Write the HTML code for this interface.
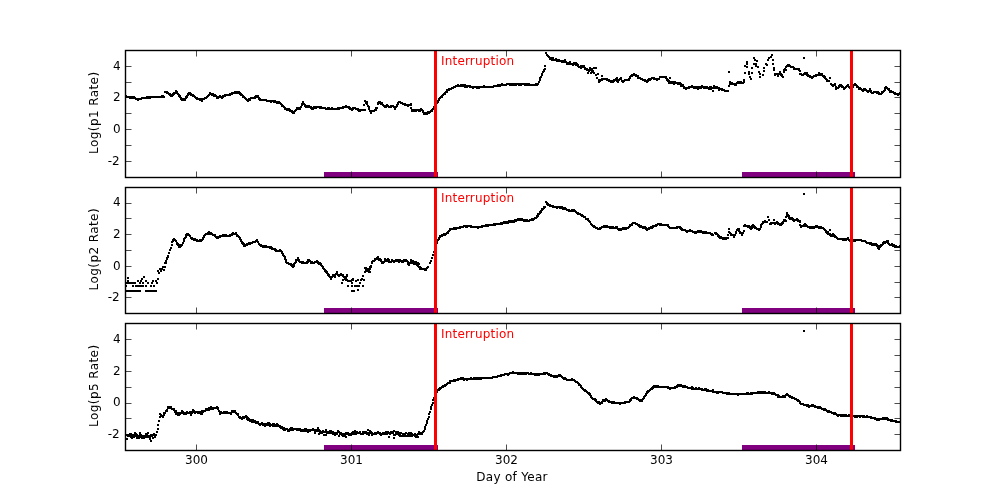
<!DOCTYPE html>
<html><head><meta charset="utf-8"><title>Day of Year</title>
<style>html,body{margin:0;padding:0;background:#fff;overflow:hidden}svg{display:block}</style></head><body>
<svg width="1000" height="500" viewBox="0 0 1000 500" font-family="DejaVu Sans, Bitstream Vera Sans, Liberation Sans, sans-serif" font-size="12px">
<rect width="1000" height="500" fill="#fff"/>
<defs>
<clipPath id="c0"><rect x="125.5" y="50.5" width="775.0" height="127.0"/></clipPath>
<clipPath id="c1"><rect x="125.5" y="187.5" width="775.0" height="126.0"/></clipPath>
<clipPath id="c2"><rect x="125.5" y="323.5" width="775.0" height="127.0"/></clipPath>
</defs>
<rect x="324" y="172.0" width="114" height="5.5" fill="#800080"/>
<rect x="742" y="172.0" width="113" height="5.5" fill="#800080"/>
<path clip-path="url(#c0)" fill="#000" shape-rendering="crispEdges" d="M125 95h2v2h-2zM126 96h2v2h-2zM127 96h2v2h-2zM128 96h2v2h-2zM129 96h2v2h-2zM129 97h2v2h-2zM130 96h2v2h-2zM130 97h2v2h-2zM131 96h2v2h-2zM131 97h2v2h-2zM132 97h2v2h-2zM133 96h2v2h-2zM133 97h2v2h-2zM134 97h2v2h-2zM135 98h2v2h-2zM136 98h2v2h-2zM137 98h2v2h-2zM137 99h2v2h-2zM138 98h2v2h-2zM139 98h2v2h-2zM140 98h2v2h-2zM141 97h2v2h-2zM142 97h2v2h-2zM143 97h2v2h-2zM144 97h2v2h-2zM145 97h2v2h-2zM146 96h2v2h-2zM146 97h2v2h-2zM147 97h2v2h-2zM148 96h2v2h-2zM149 97h2v2h-2zM150 96h2v2h-2zM151 96h2v2h-2zM152 96h2v2h-2zM153 96h2v2h-2zM154 96h2v2h-2zM155 96h2v2h-2zM156 96h2v2h-2zM157 96h2v2h-2zM158 96h2v2h-2zM159 96h2v2h-2zM160 96h2v2h-2zM161 95h2v2h-2zM161 96h2v2h-2zM162 95h2v2h-2zM163 96h2v2h-2zM164 91h2v2h-2zM165 91h2v2h-2zM166 91h2v2h-2zM166 92h2v2h-2zM167 92h2v2h-2zM168 93h2v2h-2zM169 93h2v2h-2zM169 94h2v2h-2zM170 94h2v2h-2zM170 95h2v2h-2zM171 95h2v2h-2zM172 93h2v2h-2zM172 94h2v2h-2zM173 92h2v2h-2zM173 93h2v2h-2zM174 92h2v2h-2zM175 90h2v2h-2zM175 91h2v2h-2zM175 92h2v2h-2zM176 91h2v2h-2zM176 92h2v2h-2zM177 93h2v2h-2zM178 94h2v2h-2zM178 95h2v2h-2zM179 95h2v2h-2zM179 96h2v2h-2zM180 97h2v2h-2zM180 98h2v2h-2zM181 98h2v2h-2zM181 99h2v2h-2zM182 98h2v2h-2zM182 99h2v2h-2zM183 98h2v2h-2zM184 98h2v2h-2zM184 99h2v2h-2zM185 96h2v2h-2zM185 97h2v2h-2zM186 95h2v2h-2zM186 96h2v2h-2zM187 93h2v2h-2zM187 94h2v2h-2zM188 92h2v2h-2zM189 92h2v2h-2zM189 93h2v2h-2zM190 93h2v2h-2zM190 94h2v2h-2zM191 94h2v2h-2zM192 94h2v2h-2zM192 95h2v2h-2zM193 95h2v2h-2zM194 96h2v2h-2zM195 97h2v2h-2zM196 97h2v2h-2zM196 98h2v2h-2zM197 98h2v2h-2zM198 98h2v2h-2zM199 98h2v2h-2zM199 99h2v2h-2zM200 99h2v2h-2zM201 98h2v2h-2zM201 100h2v2h-2zM202 98h2v2h-2zM203 98h2v2h-2zM204 97h2v2h-2zM205 97h2v2h-2zM206 96h2v2h-2zM207 95h2v2h-2zM208 94h2v2h-2zM209 92h2v2h-2zM209 93h2v2h-2zM210 93h2v2h-2zM211 93h2v2h-2zM211 94h2v2h-2zM212 93h2v2h-2zM212 94h2v2h-2zM213 94h2v2h-2zM213 95h2v2h-2zM214 94h2v2h-2zM215 95h2v2h-2zM216 96h2v2h-2zM216 97h2v2h-2zM217 96h2v2h-2zM217 97h2v2h-2zM218 96h2v2h-2zM219 95h2v2h-2zM220 96h2v2h-2zM221 96h2v2h-2zM221 97h2v2h-2zM222 95h2v2h-2zM222 96h2v2h-2zM223 95h2v2h-2zM224 94h2v2h-2zM224 95h2v2h-2zM225 94h2v2h-2zM226 94h2v2h-2zM227 94h2v2h-2zM228 94h2v2h-2zM229 93h2v2h-2zM229 94h2v2h-2zM230 93h2v2h-2zM231 92h2v2h-2zM231 93h2v2h-2zM232 92h2v2h-2zM233 92h2v2h-2zM234 91h2v2h-2zM235 92h2v2h-2zM236 91h2v2h-2zM236 92h2v2h-2zM237 91h2v2h-2zM238 91h2v2h-2zM238 92h2v2h-2zM239 92h2v2h-2zM239 93h2v2h-2zM240 93h2v2h-2zM240 94h2v2h-2zM241 94h2v2h-2zM242 95h2v2h-2zM242 96h2v2h-2zM243 96h2v2h-2zM244 97h2v2h-2zM245 98h2v2h-2zM246 99h2v2h-2zM247 99h2v2h-2zM247 100h2v2h-2zM248 98h2v2h-2zM248 99h2v2h-2zM249 98h2v2h-2zM249 99h2v2h-2zM250 97h2v2h-2zM251 97h2v2h-2zM252 97h2v2h-2zM253 97h2v2h-2zM254 96h2v2h-2zM254 97h2v2h-2zM255 95h2v2h-2zM255 96h2v2h-2zM256 95h2v2h-2zM257 95h2v2h-2zM257 96h2v2h-2zM258 97h2v2h-2zM258 98h2v2h-2zM259 98h2v2h-2zM259 99h2v2h-2zM260 99h2v2h-2zM261 99h2v2h-2zM262 99h2v2h-2zM263 99h2v2h-2zM264 99h2v2h-2zM265 99h2v2h-2zM266 100h2v2h-2zM267 100h2v2h-2zM268 100h2v2h-2zM269 100h2v2h-2zM270 100h2v2h-2zM270 101h2v2h-2zM271 100h2v2h-2zM272 100h2v2h-2zM273 100h2v2h-2zM273 101h2v2h-2zM274 100h2v2h-2zM274 101h2v2h-2zM275 101h2v2h-2zM276 101h2v2h-2zM276 102h2v2h-2zM277 101h2v2h-2zM278 101h2v2h-2zM278 102h2v2h-2zM279 102h2v2h-2zM280 103h2v2h-2zM281 104h2v2h-2zM281 105h2v2h-2zM282 105h2v2h-2zM283 106h2v2h-2zM284 107h2v2h-2zM284 108h2v2h-2zM285 108h2v2h-2zM286 108h2v2h-2zM286 109h2v2h-2zM287 109h2v2h-2zM288 108h2v2h-2zM288 109h2v2h-2zM289 109h2v2h-2zM289 110h2v2h-2zM290 110h2v2h-2zM291 110h2v2h-2zM291 111h2v2h-2zM292 112h2v2h-2zM293 111h2v2h-2zM293 112h2v2h-2zM294 110h2v2h-2zM295 109h2v2h-2zM296 107h2v2h-2zM296 108h2v2h-2zM297 107h2v2h-2zM297 108h2v2h-2zM298 107h2v2h-2zM299 107h2v2h-2zM299 108h2v2h-2zM300 106h2v2h-2zM301 103h2v2h-2zM301 104h2v2h-2zM302 101h2v2h-2zM302 102h2v2h-2zM303 103h2v2h-2zM304 104h2v2h-2zM304 105h2v2h-2zM305 105h2v2h-2zM305 106h2v2h-2zM306 105h2v2h-2zM306 106h2v2h-2zM307 105h2v2h-2zM307 106h2v2h-2zM308 105h2v2h-2zM308 106h2v2h-2zM309 106h2v2h-2zM310 106h2v2h-2zM310 107h2v2h-2zM311 107h2v2h-2zM311 108h2v2h-2zM312 107h2v2h-2zM312 108h2v2h-2zM313 106h2v2h-2zM313 107h2v2h-2zM314 107h2v2h-2zM315 106h2v2h-2zM315 107h2v2h-2zM316 106h2v2h-2zM317 106h2v2h-2zM318 106h2v2h-2zM319 107h2v2h-2zM320 106h2v2h-2zM320 107h2v2h-2zM321 107h2v2h-2zM322 107h2v2h-2zM323 107h2v2h-2zM324 107h2v2h-2zM325 108h2v2h-2zM326 108h2v2h-2zM327 107h2v2h-2zM327 108h2v2h-2zM328 107h2v2h-2zM329 108h2v2h-2zM330 108h2v2h-2zM331 107h2v2h-2zM331 108h2v2h-2zM332 108h2v2h-2zM333 108h2v2h-2zM334 108h2v2h-2zM335 108h2v2h-2zM336 108h2v2h-2zM337 107h2v2h-2zM337 108h2v2h-2zM338 108h2v2h-2zM339 107h2v2h-2zM340 107h2v2h-2zM341 107h2v2h-2zM342 106h2v2h-2zM342 107h2v2h-2zM343 106h2v2h-2zM344 106h2v2h-2zM345 105h2v2h-2zM345 106h2v2h-2zM346 106h2v2h-2zM347 106h2v2h-2zM348 106h2v2h-2zM348 107h2v2h-2zM349 107h2v2h-2zM349 108h2v2h-2zM350 108h2v2h-2zM351 108h2v2h-2zM351 109h2v2h-2zM352 107h2v2h-2zM352 108h2v2h-2zM353 107h2v2h-2zM354 107h2v2h-2zM355 108h2v2h-2zM356 108h2v2h-2zM357 108h2v2h-2zM357 109h2v2h-2zM358 109h2v2h-2zM358 110h2v2h-2zM359 109h2v2h-2zM359 110h2v2h-2zM360 109h2v2h-2zM361 109h2v2h-2zM362 109h2v2h-2zM363 104h2v2h-2zM363 109h2v2h-2zM364 100h2v2h-2zM364 109h2v2h-2zM365 102h2v2h-2zM366 101h2v2h-2zM366 102h2v2h-2zM366 103h2v2h-2zM367 105h2v2h-2zM368 106h2v2h-2zM368 108h2v2h-2zM369 110h2v2h-2zM370 111h2v2h-2zM370 112h2v2h-2zM371 110h2v2h-2zM372 110h2v2h-2zM373 110h2v2h-2zM374 109h2v2h-2zM375 107h2v2h-2zM375 108h2v2h-2zM375 109h2v2h-2zM376 107h2v2h-2zM377 102h2v2h-2zM377 103h2v2h-2zM378 101h2v2h-2zM379 101h2v2h-2zM379 102h2v2h-2zM380 103h2v2h-2zM381 102h2v2h-2zM381 103h2v2h-2zM382 104h2v2h-2zM383 105h2v2h-2zM384 106h2v2h-2zM385 105h2v2h-2zM385 106h2v2h-2zM386 104h2v2h-2zM386 105h2v2h-2zM387 105h2v2h-2zM388 106h2v2h-2zM389 106h2v2h-2zM390 105h2v2h-2zM390 106h2v2h-2zM391 105h2v2h-2zM392 105h2v2h-2zM393 106h2v2h-2zM394 106h2v2h-2zM394 107h2v2h-2zM394 108h2v2h-2zM395 106h2v2h-2zM396 104h2v2h-2zM396 105h2v2h-2zM397 102h2v2h-2zM397 103h2v2h-2zM398 101h2v2h-2zM399 101h2v2h-2zM400 102h2v2h-2zM401 102h2v2h-2zM402 103h2v2h-2zM403 103h2v2h-2zM404 103h2v2h-2zM404 104h2v2h-2zM405 104h2v2h-2zM406 104h2v2h-2zM407 104h2v2h-2zM407 105h2v2h-2zM408 104h2v2h-2zM409 104h2v2h-2zM410 103h2v2h-2zM410 104h2v2h-2zM410 107h2v2h-2zM411 109h2v2h-2zM411 110h2v2h-2zM412 109h2v2h-2zM413 109h2v2h-2zM413 110h2v2h-2zM414 109h2v2h-2zM415 109h2v2h-2zM415 110h2v2h-2zM416 109h2v2h-2zM417 109h2v2h-2zM418 109h2v2h-2zM418 110h2v2h-2zM419 109h2v2h-2zM419 110h2v2h-2zM420 108h2v2h-2zM421 109h2v2h-2zM422 110h2v2h-2zM422 111h2v2h-2zM423 112h2v2h-2zM423 113h2v2h-2zM424 113h2v2h-2zM425 112h2v2h-2zM425 113h2v2h-2zM426 112h2v2h-2zM426 113h2v2h-2zM427 111h2v2h-2zM427 112h2v2h-2zM428 111h2v2h-2zM428 112h2v2h-2zM429 111h2v2h-2zM430 110h2v2h-2zM431 109h2v2h-2zM431 110h2v2h-2zM432 108h2v2h-2zM433 106h2v2h-2zM433 107h2v2h-2zM434 105h2v2h-2zM434 106h2v2h-2zM435 103h2v2h-2zM435 105h2v2h-2zM436 102h2v2h-2zM437 100h2v2h-2zM437 101h2v2h-2zM438 98h2v2h-2zM438 99h2v2h-2zM439 97h2v2h-2zM440 96h2v2h-2zM441 95h2v2h-2zM441 96h2v2h-2zM442 94h2v2h-2zM443 93h2v2h-2zM444 92h2v2h-2zM444 93h2v2h-2zM445 91h2v2h-2zM446 89h2v2h-2zM446 91h2v2h-2zM447 89h2v2h-2zM448 88h2v2h-2zM448 89h2v2h-2zM449 88h2v2h-2zM450 88h2v2h-2zM451 87h2v2h-2zM452 87h2v2h-2zM453 86h2v2h-2zM454 86h2v2h-2zM455 85h2v2h-2zM456 85h2v2h-2zM457 84h2v2h-2zM457 85h2v2h-2zM458 85h2v2h-2zM459 85h2v2h-2zM460 84h2v2h-2zM461 84h2v2h-2zM461 85h2v2h-2zM462 84h2v2h-2zM463 84h2v2h-2zM463 85h2v2h-2zM464 84h2v2h-2zM464 86h2v2h-2zM465 85h2v2h-2zM465 86h2v2h-2zM466 86h2v2h-2zM467 85h2v2h-2zM468 85h2v2h-2zM469 85h2v2h-2zM469 86h2v2h-2zM470 86h2v2h-2zM471 86h2v2h-2zM472 86h2v2h-2zM472 87h2v2h-2zM473 86h2v2h-2zM474 86h2v2h-2zM475 86h2v2h-2zM476 86h2v2h-2zM476 87h2v2h-2zM477 86h2v2h-2zM478 86h2v2h-2zM478 87h2v2h-2zM479 86h2v2h-2zM480 86h2v2h-2zM481 86h2v2h-2zM482 86h2v2h-2zM483 85h2v2h-2zM483 86h2v2h-2zM484 86h2v2h-2zM485 86h2v2h-2zM486 86h2v2h-2zM487 86h2v2h-2zM488 86h2v2h-2zM489 86h2v2h-2zM490 86h2v2h-2zM491 86h2v2h-2zM492 86h2v2h-2zM493 85h2v2h-2zM494 85h2v2h-2zM495 85h2v2h-2zM496 85h2v2h-2zM497 84h2v2h-2zM497 85h2v2h-2zM498 85h2v2h-2zM499 84h2v2h-2zM499 85h2v2h-2zM500 84h2v2h-2zM501 83h2v2h-2zM501 84h2v2h-2zM502 84h2v2h-2zM503 84h2v2h-2zM504 84h2v2h-2zM505 84h2v2h-2zM506 83h2v2h-2zM507 83h2v2h-2zM508 83h2v2h-2zM509 83h2v2h-2zM509 84h2v2h-2zM510 83h2v2h-2zM511 83h2v2h-2zM511 84h2v2h-2zM512 83h2v2h-2zM513 84h2v2h-2zM514 83h2v2h-2zM514 84h2v2h-2zM515 84h2v2h-2zM516 83h2v2h-2zM517 83h2v2h-2zM518 83h2v2h-2zM518 84h2v2h-2zM519 83h2v2h-2zM520 83h2v2h-2zM520 84h2v2h-2zM521 83h2v2h-2zM522 83h2v2h-2zM523 83h2v2h-2zM524 83h2v2h-2zM524 84h2v2h-2zM525 83h2v2h-2zM525 84h2v2h-2zM526 83h2v2h-2zM526 84h2v2h-2zM527 83h2v2h-2zM527 84h2v2h-2zM528 83h2v2h-2zM529 84h2v2h-2zM530 84h2v2h-2zM531 84h2v2h-2zM532 84h2v2h-2zM533 84h2v2h-2zM534 84h2v2h-2zM535 83h2v2h-2zM535 84h2v2h-2zM536 84h2v2h-2zM537 83h2v2h-2zM538 81h2v2h-2zM539 77h2v2h-2zM539 79h2v2h-2zM540 76h2v2h-2zM541 73h2v2h-2zM541 74h2v2h-2zM542 71h2v2h-2zM543 69h2v2h-2zM543 70h2v2h-2zM544 65h2v2h-2zM544 68h2v2h-2zM545 52h2v2h-2zM546 54h2v2h-2zM547 55h2v2h-2zM548 56h2v2h-2zM549 57h2v2h-2zM549 58h2v2h-2zM550 57h2v2h-2zM550 58h2v2h-2zM551 59h2v2h-2zM552 57h2v2h-2zM552 58h2v2h-2zM553 59h2v2h-2zM554 59h2v2h-2zM555 58h2v2h-2zM555 59h2v2h-2zM556 60h2v2h-2zM557 59h2v2h-2zM558 59h2v2h-2zM558 60h2v2h-2zM559 60h2v2h-2zM560 60h2v2h-2zM561 60h2v2h-2zM561 61h2v2h-2zM562 60h2v2h-2zM562 61h2v2h-2zM563 60h2v2h-2zM564 59h2v2h-2zM564 61h2v2h-2zM565 61h2v2h-2zM566 62h2v2h-2zM566 63h2v2h-2zM567 62h2v2h-2zM567 63h2v2h-2zM568 63h2v2h-2zM569 61h2v2h-2zM569 62h2v2h-2zM570 63h2v2h-2zM571 63h2v2h-2zM572 64h2v2h-2zM573 62h2v2h-2zM573 63h2v2h-2zM574 62h2v2h-2zM575 62h2v2h-2zM575 64h2v2h-2zM576 63h2v2h-2zM577 64h2v2h-2zM577 65h2v2h-2zM578 66h2v2h-2zM579 66h2v2h-2zM580 65h2v2h-2zM580 67h2v2h-2zM581 66h2v2h-2zM582 65h2v2h-2zM583 65h2v2h-2zM583 66h2v2h-2zM584 67h2v2h-2zM584 68h2v2h-2zM585 68h2v2h-2zM586 68h2v2h-2zM586 69h2v2h-2zM587 69h2v2h-2zM587 72h2v2h-2zM588 69h2v2h-2zM588 70h2v2h-2zM589 67h2v2h-2zM589 68h2v2h-2zM590 69h2v2h-2zM590 72h2v2h-2zM591 68h2v2h-2zM591 71h2v2h-2zM592 70h2v2h-2zM593 67h2v2h-2zM593 72h2v2h-2zM595 67h2v2h-2zM595 74h2v2h-2zM596 77h2v2h-2zM597 73h2v2h-2zM598 79h2v2h-2zM598 81h2v2h-2zM599 79h2v2h-2zM599 80h2v2h-2zM600 79h2v2h-2zM601 75h2v2h-2zM601 78h2v2h-2zM601 79h2v2h-2zM602 78h2v2h-2zM603 78h2v2h-2zM604 78h2v2h-2zM605 78h2v2h-2zM606 78h2v2h-2zM606 79h2v2h-2zM607 79h2v2h-2zM608 79h2v2h-2zM608 80h2v2h-2zM609 80h2v2h-2zM610 80h2v2h-2zM610 81h2v2h-2zM611 80h2v2h-2zM611 81h2v2h-2zM612 81h2v2h-2zM613 79h2v2h-2zM613 80h2v2h-2zM614 79h2v2h-2zM615 78h2v2h-2zM616 77h2v2h-2zM616 78h2v2h-2zM616 80h2v2h-2zM617 80h2v2h-2zM617 81h2v2h-2zM618 79h2v2h-2zM619 78h2v2h-2zM620 77h2v2h-2zM620 78h2v2h-2zM621 80h2v2h-2zM622 80h2v2h-2zM622 81h2v2h-2zM623 80h2v2h-2zM624 79h2v2h-2zM625 79h2v2h-2zM626 79h2v2h-2zM627 79h2v2h-2zM628 78h2v2h-2zM628 79h2v2h-2zM629 76h2v2h-2zM629 77h2v2h-2zM630 75h2v2h-2zM631 74h2v2h-2zM631 75h2v2h-2zM632 74h2v2h-2zM633 73h2v2h-2zM634 74h2v2h-2zM635 74h2v2h-2zM635 75h2v2h-2zM636 75h2v2h-2zM637 75h2v2h-2zM637 77h2v2h-2zM638 77h2v2h-2zM639 77h2v2h-2zM640 78h2v2h-2zM641 78h2v2h-2zM642 79h2v2h-2zM643 79h2v2h-2zM644 79h2v2h-2zM644 80h2v2h-2zM645 80h2v2h-2zM646 80h2v2h-2zM646 81h2v2h-2zM647 79h2v2h-2zM647 80h2v2h-2zM648 78h2v2h-2zM648 79h2v2h-2zM649 78h2v2h-2zM649 79h2v2h-2zM650 78h2v2h-2zM651 77h2v2h-2zM652 77h2v2h-2zM653 77h2v2h-2zM653 78h2v2h-2zM654 78h2v2h-2zM655 78h2v2h-2zM656 79h2v2h-2zM657 78h2v2h-2zM658 78h2v2h-2zM659 76h2v2h-2zM661 76h2v2h-2zM662 76h2v2h-2zM663 76h2v2h-2zM664 76h2v2h-2zM665 76h2v2h-2zM665 77h2v2h-2zM666 78h2v2h-2zM666 79h2v2h-2zM667 79h2v2h-2zM667 80h2v2h-2zM668 80h2v2h-2zM668 82h2v2h-2zM669 77h2v2h-2zM669 81h2v2h-2zM670 82h2v2h-2zM671 81h2v2h-2zM671 82h2v2h-2zM672 81h2v2h-2zM672 82h2v2h-2zM673 82h2v2h-2zM673 83h2v2h-2zM674 81h2v2h-2zM674 82h2v2h-2zM675 82h2v2h-2zM676 82h2v2h-2zM677 82h2v2h-2zM677 83h2v2h-2zM678 82h2v2h-2zM679 82h2v2h-2zM679 83h2v2h-2zM680 83h2v2h-2zM680 85h2v2h-2zM681 84h2v2h-2zM682 84h2v2h-2zM682 85h2v2h-2zM683 86h2v2h-2zM683 87h2v2h-2zM684 87h2v2h-2zM685 88h2v2h-2zM686 87h2v2h-2zM687 87h2v2h-2zM688 86h2v2h-2zM688 87h2v2h-2zM689 86h2v2h-2zM690 86h2v2h-2zM691 85h2v2h-2zM691 86h2v2h-2zM692 86h2v2h-2zM693 86h2v2h-2zM693 87h2v2h-2zM694 86h2v2h-2zM695 87h2v2h-2zM696 86h2v2h-2zM696 87h2v2h-2zM697 86h2v2h-2zM697 88h2v2h-2zM698 86h2v2h-2zM699 86h2v2h-2zM699 87h2v2h-2zM700 87h2v2h-2zM701 85h2v2h-2zM701 86h2v2h-2zM702 86h2v2h-2zM703 86h2v2h-2zM703 87h2v2h-2zM704 87h2v2h-2zM705 86h2v2h-2zM705 87h2v2h-2zM706 86h2v2h-2zM706 87h2v2h-2zM707 87h2v2h-2zM708 87h2v2h-2zM708 88h2v2h-2zM709 86h2v2h-2zM710 86h2v2h-2zM710 88h2v2h-2zM711 87h2v2h-2zM712 87h2v2h-2zM712 90h2v2h-2zM713 85h2v2h-2zM713 87h2v2h-2zM714 86h2v2h-2zM715 87h2v2h-2zM716 86h2v2h-2zM717 87h2v2h-2zM718 87h2v2h-2zM718 89h2v2h-2zM719 88h2v2h-2zM720 88h2v2h-2zM721 88h2v2h-2zM721 89h2v2h-2zM722 89h2v2h-2zM723 89h2v2h-2zM724 90h2v2h-2zM725 90h2v2h-2zM726 90h2v2h-2zM727 90h2v2h-2zM728 71h2v2h-2zM728 85h2v2h-2zM729 81h2v2h-2zM729 82h2v2h-2zM729 83h2v2h-2zM730 82h2v2h-2zM731 82h2v2h-2zM731 83h2v2h-2zM732 83h2v2h-2zM733 83h2v2h-2zM734 84h2v2h-2zM735 83h2v2h-2zM735 84h2v2h-2zM736 82h2v2h-2zM737 81h2v2h-2zM737 82h2v2h-2zM738 81h2v2h-2zM739 81h2v2h-2zM739 82h2v2h-2zM740 81h2v2h-2zM740 82h2v2h-2zM741 82h2v2h-2zM742 82h2v2h-2zM743 79h2v2h-2zM743 81h2v2h-2zM744 65h2v2h-2zM744 72h2v2h-2zM746 61h2v2h-2zM746 63h2v2h-2zM746 66h2v2h-2zM748 71h2v2h-2zM748 73h2v2h-2zM749 76h2v2h-2zM750 78h2v2h-2zM751 67h2v2h-2zM751 72h2v2h-2zM753 57h2v2h-2zM753 63h2v2h-2zM754 59h2v2h-2zM755 63h2v2h-2zM755 65h2v2h-2zM756 60h2v2h-2zM757 66h2v2h-2zM758 71h2v2h-2zM759 73h2v2h-2zM759 76h2v2h-2zM762 74h2v2h-2zM763 67h2v2h-2zM763 70h2v2h-2zM765 63h2v2h-2zM766 64h2v2h-2zM767 59h2v2h-2zM768 57h2v2h-2zM770 56h2v2h-2zM771 54h2v2h-2zM772 59h2v2h-2zM772 63h2v2h-2zM773 67h2v2h-2zM773 69h2v2h-2zM774 73h2v2h-2zM774 74h2v2h-2zM775 73h2v2h-2zM776 73h2v2h-2zM777 73h2v2h-2zM777 75h2v2h-2zM778 73h2v2h-2zM779 71h2v2h-2zM779 72h2v2h-2zM780 73h2v2h-2zM780 74h2v2h-2zM781 74h2v2h-2zM781 75h2v2h-2zM782 76h2v2h-2zM783 69h2v2h-2zM783 71h2v2h-2zM784 68h2v2h-2zM784 69h2v2h-2zM785 66h2v2h-2zM785 69h2v2h-2zM786 65h2v2h-2zM787 64h2v2h-2zM788 64h2v2h-2zM788 65h2v2h-2zM789 65h2v2h-2zM790 66h2v2h-2zM791 66h2v2h-2zM792 66h2v2h-2zM793 67h2v2h-2zM793 68h2v2h-2zM794 68h2v2h-2zM795 68h2v2h-2zM796 68h2v2h-2zM797 68h2v2h-2zM798 68h2v2h-2zM798 69h2v2h-2zM799 70h2v2h-2zM799 73h2v2h-2zM800 73h2v2h-2zM801 74h2v2h-2zM802 74h2v2h-2zM803 57h2v2h-2zM803 73h2v2h-2zM804 72h2v2h-2zM805 72h2v2h-2zM805 73h2v2h-2zM806 72h2v2h-2zM806 74h2v2h-2zM807 74h2v2h-2zM807 75h2v2h-2zM808 75h2v2h-2zM809 75h2v2h-2zM809 76h2v2h-2zM810 76h2v2h-2zM811 76h2v2h-2zM811 77h2v2h-2zM812 76h2v2h-2zM813 75h2v2h-2zM814 75h2v2h-2zM815 74h2v2h-2zM815 75h2v2h-2zM816 74h2v2h-2zM817 74h2v2h-2zM818 72h2v2h-2zM818 73h2v2h-2zM819 73h2v2h-2zM819 74h2v2h-2zM820 74h2v2h-2zM821 73h2v2h-2zM822 75h2v2h-2zM823 75h2v2h-2zM823 76h2v2h-2zM824 76h2v2h-2zM824 77h2v2h-2zM825 78h2v2h-2zM826 79h2v2h-2zM826 80h2v2h-2zM827 80h2v2h-2zM828 80h2v2h-2zM829 77h2v2h-2zM830 83h2v2h-2zM831 84h2v2h-2zM832 84h2v2h-2zM832 85h2v2h-2zM833 84h2v2h-2zM834 83h2v2h-2zM834 84h2v2h-2zM835 86h2v2h-2zM835 87h2v2h-2zM835 88h2v2h-2zM836 87h2v2h-2zM837 87h2v2h-2zM838 85h2v2h-2zM838 86h2v2h-2zM839 84h2v2h-2zM839 85h2v2h-2zM840 84h2v2h-2zM841 85h2v2h-2zM841 86h2v2h-2zM842 86h2v2h-2zM843 87h2v2h-2zM843 88h2v2h-2zM844 87h2v2h-2zM845 86h2v2h-2zM846 85h2v2h-2zM847 84h2v2h-2zM847 85h2v2h-2zM848 86h2v2h-2zM849 87h2v2h-2zM850 86h2v2h-2zM851 86h2v2h-2zM852 84h2v2h-2zM852 86h2v2h-2zM853 84h2v2h-2zM854 83h2v2h-2zM855 84h2v2h-2zM856 85h2v2h-2zM856 86h2v2h-2zM857 86h2v2h-2zM858 87h2v2h-2zM858 88h2v2h-2zM859 87h2v2h-2zM859 88h2v2h-2zM860 88h2v2h-2zM861 89h2v2h-2zM862 90h2v2h-2zM863 88h2v2h-2zM863 89h2v2h-2zM864 88h2v2h-2zM865 89h2v2h-2zM866 90h2v2h-2zM867 90h2v2h-2zM867 91h2v2h-2zM868 90h2v2h-2zM869 88h2v2h-2zM869 89h2v2h-2zM870 90h2v2h-2zM870 91h2v2h-2zM871 92h2v2h-2zM872 92h2v2h-2zM873 91h2v2h-2zM874 91h2v2h-2zM875 91h2v2h-2zM876 91h2v2h-2zM876 92h2v2h-2zM877 91h2v2h-2zM878 92h2v2h-2zM878 93h2v2h-2zM879 93h2v2h-2zM880 93h2v2h-2zM881 91h2v2h-2zM881 92h2v2h-2zM882 91h2v2h-2zM883 90h2v2h-2zM884 87h2v2h-2zM884 89h2v2h-2zM885 86h2v2h-2zM886 87h2v2h-2zM887 88h2v2h-2zM888 88h2v2h-2zM888 89h2v2h-2zM889 90h2v2h-2zM889 91h2v2h-2zM890 90h2v2h-2zM890 91h2v2h-2zM891 91h2v2h-2zM892 91h2v2h-2zM893 92h2v2h-2zM894 92h2v2h-2zM894 93h2v2h-2zM895 93h2v2h-2zM896 93h2v2h-2zM897 93h2v2h-2zM897 94h2v2h-2zM898 93h2v2h-2zM899 92h2v2h-2z"/>
<rect x="434.0" y="50.5" width="3" height="127.0" fill="#ff0000"/>
<rect x="850.0" y="50.5" width="3" height="127.0" fill="#ff0000"/>
<text x="441" y="65.0" fill="#ff0000" letter-spacing="0.18">Interruption</text>
<path d="M125.5 161.5h6M900.5 161.5h-6M125.5 145.5h6M900.5 145.5h-6M125.5 129.5h6M900.5 129.5h-6M125.5 113.5h6M900.5 113.5h-6M125.5 97.5h6M900.5 97.5h-6M125.5 82.5h6M900.5 82.5h-6M125.5 66.5h6M900.5 66.5h-6M196.5 50.5v6M196.5 177.5v-6M351.5 50.5v6M351.5 177.5v-6M506.5 50.5v6M506.5 177.5v-6M661.5 50.5v6M661.5 177.5v-6M816.5 50.5v6M816.5 177.5v-6" stroke="#000" stroke-width="0.7" fill="none"/>
<rect x="125.5" y="50.5" width="775.0" height="127.0" fill="none" stroke="#000" stroke-width="1.4"/>
<text x="119.6" y="164.5" text-anchor="end">-2</text>
<text x="120.7" y="132.8" text-anchor="end">0</text>
<text x="120.7" y="101.2" text-anchor="end">2</text>
<text x="120.7" y="69.5" text-anchor="end">4</text>
<text transform="translate(97.5,112.7) rotate(-90)" text-anchor="middle" letter-spacing="0.42">Log(p1 Rate)</text>
<rect x="324" y="308.0" width="114" height="5.5" fill="#800080"/>
<rect x="742" y="308.0" width="113" height="5.5" fill="#800080"/>
<path clip-path="url(#c1)" fill="#000" shape-rendering="crispEdges" d="M125 282h2v2h-2zM125 285h2v2h-2zM125 290h2v2h-2zM126 282h2v2h-2zM126 290h2v2h-2zM127 277h2v2h-2zM127 280h2v2h-2zM127 282h2v2h-2zM127 290h2v2h-2zM128 282h2v2h-2zM129 282h2v2h-2zM129 290h2v2h-2zM130 282h2v2h-2zM130 290h2v2h-2zM131 282h2v2h-2zM131 290h2v2h-2zM132 282h2v2h-2zM132 285h2v2h-2zM132 290h2v2h-2zM133 282h2v2h-2zM133 290h2v2h-2zM134 282h2v2h-2zM134 290h2v2h-2zM135 285h2v2h-2zM135 290h2v2h-2zM136 285h2v2h-2zM136 290h2v2h-2zM137 280h2v2h-2zM137 285h2v2h-2zM137 290h2v2h-2zM138 285h2v2h-2zM138 290h2v2h-2zM139 282h2v2h-2zM139 285h2v2h-2zM139 290h2v2h-2zM140 280h2v2h-2zM140 285h2v2h-2zM141 278h2v2h-2zM142 282h2v2h-2zM142 285h2v2h-2zM143 276h2v2h-2zM145 280h2v2h-2zM145 285h2v2h-2zM145 290h2v2h-2zM146 290h2v2h-2zM147 282h2v2h-2zM147 290h2v2h-2zM148 290h2v2h-2zM149 290h2v2h-2zM150 285h2v2h-2zM150 290h2v2h-2zM151 282h2v2h-2zM151 290h2v2h-2zM152 280h2v2h-2zM152 290h2v2h-2zM153 285h2v2h-2zM153 290h2v2h-2zM154 290h2v2h-2zM155 280h2v2h-2zM155 290h2v2h-2zM156 282h2v2h-2zM157 270h2v2h-2zM157 278h2v2h-2zM158 272h2v2h-2zM159 268h2v2h-2zM160 270h2v2h-2zM161 268h2v2h-2zM162 266h2v2h-2zM163 269h2v2h-2zM164 262h2v2h-2zM164 266h2v2h-2zM165 260h2v2h-2zM165 262h2v2h-2zM166 257h2v2h-2zM166 258h2v2h-2zM167 255h2v2h-2zM167 256h2v2h-2zM168 252h2v2h-2zM169 249h2v2h-2zM170 247h2v2h-2zM171 241h2v2h-2zM171 244h2v2h-2zM172 239h2v2h-2zM172 240h2v2h-2zM173 238h2v2h-2zM174 239h2v2h-2zM175 240h2v2h-2zM176 242h2v2h-2zM176 243h2v2h-2zM177 243h2v2h-2zM177 244h2v2h-2zM178 244h2v2h-2zM178 246h2v2h-2zM179 245h2v2h-2zM179 246h2v2h-2zM180 244h2v2h-2zM180 245h2v2h-2zM181 244h2v2h-2zM182 242h2v2h-2zM183 238h2v2h-2zM183 239h2v2h-2zM183 240h2v2h-2zM184 237h2v2h-2zM185 234h2v2h-2zM185 236h2v2h-2zM186 233h2v2h-2zM187 233h2v2h-2zM187 234h2v2h-2zM188 234h2v2h-2zM189 235h2v2h-2zM190 237h2v2h-2zM191 237h2v2h-2zM191 238h2v2h-2zM192 238h2v2h-2zM193 238h2v2h-2zM193 239h2v2h-2zM194 238h2v2h-2zM194 239h2v2h-2zM195 239h2v2h-2zM196 239h2v2h-2zM196 240h2v2h-2zM197 240h2v2h-2zM198 240h2v2h-2zM199 239h2v2h-2zM199 240h2v2h-2zM200 239h2v2h-2zM200 240h2v2h-2zM201 239h2v2h-2zM202 237h2v2h-2zM202 238h2v2h-2zM203 235h2v2h-2zM203 236h2v2h-2zM204 234h2v2h-2zM205 233h2v2h-2zM206 233h2v2h-2zM207 232h2v2h-2zM207 233h2v2h-2zM208 231h2v2h-2zM208 232h2v2h-2zM209 232h2v2h-2zM209 233h2v2h-2zM210 232h2v2h-2zM210 233h2v2h-2zM211 233h2v2h-2zM212 234h2v2h-2zM213 234h2v2h-2zM214 234h2v2h-2zM214 235h2v2h-2zM215 236h2v2h-2zM216 237h2v2h-2zM217 236h2v2h-2zM217 237h2v2h-2zM218 236h2v2h-2zM219 235h2v2h-2zM219 236h2v2h-2zM220 235h2v2h-2zM221 235h2v2h-2zM222 234h2v2h-2zM222 235h2v2h-2zM223 234h2v2h-2zM224 234h2v2h-2zM224 235h2v2h-2zM225 234h2v2h-2zM226 235h2v2h-2zM227 235h2v2h-2zM228 235h2v2h-2zM229 234h2v2h-2zM229 235h2v2h-2zM230 234h2v2h-2zM231 233h2v2h-2zM231 234h2v2h-2zM232 232h2v2h-2zM232 233h2v2h-2zM233 233h2v2h-2zM234 233h2v2h-2zM235 232h2v2h-2zM235 233h2v2h-2zM236 234h2v2h-2zM236 235h2v2h-2zM237 235h2v2h-2zM238 236h2v2h-2zM239 237h2v2h-2zM239 238h2v2h-2zM240 239h2v2h-2zM240 240h2v2h-2zM241 241h2v2h-2zM241 242h2v2h-2zM242 242h2v2h-2zM242 243h2v2h-2zM243 243h2v2h-2zM243 244h2v2h-2zM243 245h2v2h-2zM244 245h2v2h-2zM245 244h2v2h-2zM246 243h2v2h-2zM246 244h2v2h-2zM247 243h2v2h-2zM248 242h2v2h-2zM248 243h2v2h-2zM249 242h2v2h-2zM249 243h2v2h-2zM250 242h2v2h-2zM251 242h2v2h-2zM252 241h2v2h-2zM253 241h2v2h-2zM254 241h2v2h-2zM255 240h2v2h-2zM256 239h2v2h-2zM256 240h2v2h-2zM257 241h2v2h-2zM258 243h2v2h-2zM259 244h2v2h-2zM260 244h2v2h-2zM260 245h2v2h-2zM261 245h2v2h-2zM262 245h2v2h-2zM262 246h2v2h-2zM263 245h2v2h-2zM263 246h2v2h-2zM264 246h2v2h-2zM265 245h2v2h-2zM266 246h2v2h-2zM267 246h2v2h-2zM268 246h2v2h-2zM269 246h2v2h-2zM269 247h2v2h-2zM270 246h2v2h-2zM270 247h2v2h-2zM271 247h2v2h-2zM271 248h2v2h-2zM272 248h2v2h-2zM273 248h2v2h-2zM274 248h2v2h-2zM274 249h2v2h-2zM275 249h2v2h-2zM275 250h2v2h-2zM276 250h2v2h-2zM277 250h2v2h-2zM278 250h2v2h-2zM279 249h2v2h-2zM279 250h2v2h-2zM280 250h2v2h-2zM281 251h2v2h-2zM281 252h2v2h-2zM282 253h2v2h-2zM282 254h2v2h-2zM283 255h2v2h-2zM284 256h2v2h-2zM284 258h2v2h-2zM285 259h2v2h-2zM285 261h2v2h-2zM286 262h2v2h-2zM287 262h2v2h-2zM288 263h2v2h-2zM289 263h2v2h-2zM290 263h2v2h-2zM290 264h2v2h-2zM291 264h2v2h-2zM291 265h2v2h-2zM292 266h2v2h-2zM293 263h2v2h-2zM293 265h2v2h-2zM294 262h2v2h-2zM295 259h2v2h-2zM295 261h2v2h-2zM296 259h2v2h-2zM297 257h2v2h-2zM297 258h2v2h-2zM298 259h2v2h-2zM298 260h2v2h-2zM299 261h2v2h-2zM300 261h2v2h-2zM301 261h2v2h-2zM301 262h2v2h-2zM302 261h2v2h-2zM302 262h2v2h-2zM303 262h2v2h-2zM304 262h2v2h-2zM305 262h2v2h-2zM306 261h2v2h-2zM306 262h2v2h-2zM307 259h2v2h-2zM307 261h2v2h-2zM308 259h2v2h-2zM309 260h2v2h-2zM310 261h2v2h-2zM310 262h2v2h-2zM311 261h2v2h-2zM312 262h2v2h-2zM313 262h2v2h-2zM314 261h2v2h-2zM315 261h2v2h-2zM316 260h2v2h-2zM316 261h2v2h-2zM317 261h2v2h-2zM317 262h2v2h-2zM318 263h2v2h-2zM319 262h2v2h-2zM319 263h2v2h-2zM320 263h2v2h-2zM320 264h2v2h-2zM321 265h2v2h-2zM322 266h2v2h-2zM322 267h2v2h-2zM323 268h2v2h-2zM324 269h2v2h-2zM324 270h2v2h-2zM325 270h2v2h-2zM325 271h2v2h-2zM326 271h2v2h-2zM326 272h2v2h-2zM327 273h2v2h-2zM327 274h2v2h-2zM328 274h2v2h-2zM328 275h2v2h-2zM329 276h2v2h-2zM330 276h2v2h-2zM330 278h2v2h-2zM331 276h2v2h-2zM332 274h2v2h-2zM333 275h2v2h-2zM334 274h2v2h-2zM334 276h2v2h-2zM335 273h2v2h-2zM336 271h2v2h-2zM336 272h2v2h-2zM336 273h2v2h-2zM337 274h2v2h-2zM338 275h2v2h-2zM339 274h2v2h-2zM340 273h2v2h-2zM340 274h2v2h-2zM341 274h2v2h-2zM341 282h2v2h-2zM342 274h2v2h-2zM342 275h2v2h-2zM342 279h2v2h-2zM343 276h2v2h-2zM344 277h2v2h-2zM344 278h2v2h-2zM345 276h2v2h-2zM345 278h2v2h-2zM345 279h2v2h-2zM346 274h2v2h-2zM346 275h2v2h-2zM346 279h2v2h-2zM347 280h2v2h-2zM347 285h2v2h-2zM348 280h2v2h-2zM349 280h2v2h-2zM350 280h2v2h-2zM351 279h2v2h-2zM351 282h2v2h-2zM351 285h2v2h-2zM351 290h2v2h-2zM352 278h2v2h-2zM352 279h2v2h-2zM353 290h2v2h-2zM354 285h2v2h-2zM355 280h2v2h-2zM356 285h2v2h-2zM357 279h2v2h-2zM357 289h2v2h-2zM358 285h2v2h-2zM359 282h2v2h-2zM360 279h2v2h-2zM361 278h2v2h-2zM362 275h2v2h-2zM362 285h2v2h-2zM363 279h2v2h-2zM364 267h2v2h-2zM364 271h2v2h-2zM365 267h2v2h-2zM365 268h2v2h-2zM365 270h2v2h-2zM366 269h2v2h-2zM366 270h2v2h-2zM367 268h2v2h-2zM367 269h2v2h-2zM367 270h2v2h-2zM368 269h2v2h-2zM368 271h2v2h-2zM369 266h2v2h-2zM369 267h2v2h-2zM369 268h2v2h-2zM369 271h2v2h-2zM370 265h2v2h-2zM370 266h2v2h-2zM371 261h2v2h-2zM371 262h2v2h-2zM372 260h2v2h-2zM373 260h2v2h-2zM374 258h2v2h-2zM374 259h2v2h-2zM375 258h2v2h-2zM376 257h2v2h-2zM376 258h2v2h-2zM377 256h2v2h-2zM377 257h2v2h-2zM378 258h2v2h-2zM378 259h2v2h-2zM379 258h2v2h-2zM379 259h2v2h-2zM380 259h2v2h-2zM380 260h2v2h-2zM381 261h2v2h-2zM381 262h2v2h-2zM382 261h2v2h-2zM382 262h2v2h-2zM383 261h2v2h-2zM384 258h2v2h-2zM384 259h2v2h-2zM385 259h2v2h-2zM385 260h2v2h-2zM386 260h2v2h-2zM387 258h2v2h-2zM387 259h2v2h-2zM388 259h2v2h-2zM388 261h2v2h-2zM389 261h2v2h-2zM390 261h2v2h-2zM391 259h2v2h-2zM391 260h2v2h-2zM392 260h2v2h-2zM393 260h2v2h-2zM393 261h2v2h-2zM394 260h2v2h-2zM395 259h2v2h-2zM395 260h2v2h-2zM396 259h2v2h-2zM396 260h2v2h-2zM397 259h2v2h-2zM398 259h2v2h-2zM398 261h2v2h-2zM399 259h2v2h-2zM399 260h2v2h-2zM400 260h2v2h-2zM401 260h2v2h-2zM401 261h2v2h-2zM402 260h2v2h-2zM402 261h2v2h-2zM403 259h2v2h-2zM403 260h2v2h-2zM404 260h2v2h-2zM405 259h2v2h-2zM405 260h2v2h-2zM406 260h2v2h-2zM407 261h2v2h-2zM407 263h2v2h-2zM408 263h2v2h-2zM408 264h2v2h-2zM409 262h2v2h-2zM410 259h2v2h-2zM410 260h2v2h-2zM411 261h2v2h-2zM411 262h2v2h-2zM412 260h2v2h-2zM412 261h2v2h-2zM413 262h2v2h-2zM413 263h2v2h-2zM414 261h2v2h-2zM414 262h2v2h-2zM415 261h2v2h-2zM415 263h2v2h-2zM416 264h2v2h-2zM417 262h2v2h-2zM417 265h2v2h-2zM418 263h2v2h-2zM418 266h2v2h-2zM419 266h2v2h-2zM419 268h2v2h-2zM420 267h2v2h-2zM421 268h2v2h-2zM422 268h2v2h-2zM423 268h2v2h-2zM424 269h2v2h-2zM425 268h2v2h-2zM425 269h2v2h-2zM426 267h2v2h-2zM427 266h2v2h-2zM429 262h2v2h-2zM430 260h2v2h-2zM431 257h2v2h-2zM432 254h2v2h-2zM433 251h2v2h-2zM434 248h2v2h-2zM435 244h2v2h-2zM436 241h2v2h-2zM436 242h2v2h-2zM437 239h2v2h-2zM438 237h2v2h-2zM438 238h2v2h-2zM439 235h2v2h-2zM439 236h2v2h-2zM440 235h2v2h-2zM441 234h2v2h-2zM441 235h2v2h-2zM442 234h2v2h-2zM443 233h2v2h-2zM443 234h2v2h-2zM444 233h2v2h-2zM444 234h2v2h-2zM445 233h2v2h-2zM446 232h2v2h-2zM447 231h2v2h-2zM447 232h2v2h-2zM448 230h2v2h-2zM449 228h2v2h-2zM449 229h2v2h-2zM450 228h2v2h-2zM451 228h2v2h-2zM452 228h2v2h-2zM453 227h2v2h-2zM453 228h2v2h-2zM454 227h2v2h-2zM455 228h2v2h-2zM456 227h2v2h-2zM457 227h2v2h-2zM458 227h2v2h-2zM459 226h2v2h-2zM459 227h2v2h-2zM460 226h2v2h-2zM461 226h2v2h-2zM462 226h2v2h-2zM463 225h2v2h-2zM464 225h2v2h-2zM465 225h2v2h-2zM465 226h2v2h-2zM466 225h2v2h-2zM466 226h2v2h-2zM467 225h2v2h-2zM468 225h2v2h-2zM469 225h2v2h-2zM470 225h2v2h-2zM470 226h2v2h-2zM471 226h2v2h-2zM472 226h2v2h-2zM473 226h2v2h-2zM474 226h2v2h-2zM475 226h2v2h-2zM476 226h2v2h-2zM477 226h2v2h-2zM477 227h2v2h-2zM478 226h2v2h-2zM479 226h2v2h-2zM480 226h2v2h-2zM481 225h2v2h-2zM481 226h2v2h-2zM482 225h2v2h-2zM483 225h2v2h-2zM484 225h2v2h-2zM485 224h2v2h-2zM485 225h2v2h-2zM486 225h2v2h-2zM487 224h2v2h-2zM487 225h2v2h-2zM488 224h2v2h-2zM489 224h2v2h-2zM490 224h2v2h-2zM491 224h2v2h-2zM492 224h2v2h-2zM493 223h2v2h-2zM493 224h2v2h-2zM494 223h2v2h-2zM494 224h2v2h-2zM495 223h2v2h-2zM496 223h2v2h-2zM497 223h2v2h-2zM498 223h2v2h-2zM499 223h2v2h-2zM500 222h2v2h-2zM500 223h2v2h-2zM501 222h2v2h-2zM501 223h2v2h-2zM502 222h2v2h-2zM503 221h2v2h-2zM503 222h2v2h-2zM504 222h2v2h-2zM505 221h2v2h-2zM505 222h2v2h-2zM506 221h2v2h-2zM507 221h2v2h-2zM507 222h2v2h-2zM508 220h2v2h-2zM508 221h2v2h-2zM509 221h2v2h-2zM510 220h2v2h-2zM510 221h2v2h-2zM511 220h2v2h-2zM511 221h2v2h-2zM512 220h2v2h-2zM513 220h2v2h-2zM513 221h2v2h-2zM514 219h2v2h-2zM514 220h2v2h-2zM515 219h2v2h-2zM515 220h2v2h-2zM516 219h2v2h-2zM517 218h2v2h-2zM517 219h2v2h-2zM518 218h2v2h-2zM518 219h2v2h-2zM519 218h2v2h-2zM519 219h2v2h-2zM520 219h2v2h-2zM521 218h2v2h-2zM521 219h2v2h-2zM522 219h2v2h-2zM523 219h2v2h-2zM523 220h2v2h-2zM524 219h2v2h-2zM525 219h2v2h-2zM525 220h2v2h-2zM526 219h2v2h-2zM526 220h2v2h-2zM527 220h2v2h-2zM528 220h2v2h-2zM529 219h2v2h-2zM530 219h2v2h-2zM531 218h2v2h-2zM532 218h2v2h-2zM532 219h2v2h-2zM533 218h2v2h-2zM534 217h2v2h-2zM535 217h2v2h-2zM536 215h2v2h-2zM536 216h2v2h-2zM537 213h2v2h-2zM537 215h2v2h-2zM538 213h2v2h-2zM539 211h2v2h-2zM539 212h2v2h-2zM540 210h2v2h-2zM540 211h2v2h-2zM541 208h2v2h-2zM541 209h2v2h-2zM542 208h2v2h-2zM543 206h2v2h-2zM543 207h2v2h-2zM544 206h2v2h-2zM545 201h2v2h-2zM546 202h2v2h-2zM546 203h2v2h-2zM547 203h2v2h-2zM547 204h2v2h-2zM548 204h2v2h-2zM549 204h2v2h-2zM549 205h2v2h-2zM550 205h2v2h-2zM551 205h2v2h-2zM552 205h2v2h-2zM552 206h2v2h-2zM553 206h2v2h-2zM554 206h2v2h-2zM555 206h2v2h-2zM556 207h2v2h-2zM557 206h2v2h-2zM558 206h2v2h-2zM559 206h2v2h-2zM559 207h2v2h-2zM560 206h2v2h-2zM560 207h2v2h-2zM561 206h2v2h-2zM561 207h2v2h-2zM562 207h2v2h-2zM562 208h2v2h-2zM563 207h2v2h-2zM564 207h2v2h-2zM564 208h2v2h-2zM565 208h2v2h-2zM566 209h2v2h-2zM567 209h2v2h-2zM568 209h2v2h-2zM568 210h2v2h-2zM569 210h2v2h-2zM570 210h2v2h-2zM571 209h2v2h-2zM571 210h2v2h-2zM572 210h2v2h-2zM573 209h2v2h-2zM573 210h2v2h-2zM574 210h2v2h-2zM575 211h2v2h-2zM576 212h2v2h-2zM577 212h2v2h-2zM577 213h2v2h-2zM578 213h2v2h-2zM579 213h2v2h-2zM580 214h2v2h-2zM581 214h2v2h-2zM581 215h2v2h-2zM582 215h2v2h-2zM583 216h2v2h-2zM584 216h2v2h-2zM585 218h2v2h-2zM586 218h2v2h-2zM587 218h2v2h-2zM587 219h2v2h-2zM588 220h2v2h-2zM589 221h2v2h-2zM590 223h2v2h-2zM591 224h2v2h-2zM592 225h2v2h-2zM593 225h2v2h-2zM593 226h2v2h-2zM594 226h2v2h-2zM595 227h2v2h-2zM596 227h2v2h-2zM597 228h2v2h-2zM598 228h2v2h-2zM599 227h2v2h-2zM599 228h2v2h-2zM600 227h2v2h-2zM601 226h2v2h-2zM602 226h2v2h-2zM603 225h2v2h-2zM603 226h2v2h-2zM604 225h2v2h-2zM604 226h2v2h-2zM605 226h2v2h-2zM606 225h2v2h-2zM606 226h2v2h-2zM607 226h2v2h-2zM608 226h2v2h-2zM609 226h2v2h-2zM609 227h2v2h-2zM610 226h2v2h-2zM610 227h2v2h-2zM611 226h2v2h-2zM611 227h2v2h-2zM612 226h2v2h-2zM612 227h2v2h-2zM613 227h2v2h-2zM614 227h2v2h-2zM615 226h2v2h-2zM616 226h2v2h-2zM616 227h2v2h-2zM617 228h2v2h-2zM618 228h2v2h-2zM618 229h2v2h-2zM619 228h2v2h-2zM620 229h2v2h-2zM621 228h2v2h-2zM622 227h2v2h-2zM622 228h2v2h-2zM623 228h2v2h-2zM624 227h2v2h-2zM624 228h2v2h-2zM625 228h2v2h-2zM626 227h2v2h-2zM627 227h2v2h-2zM628 226h2v2h-2zM629 224h2v2h-2zM629 225h2v2h-2zM630 224h2v2h-2zM631 223h2v2h-2zM631 224h2v2h-2zM632 222h2v2h-2zM633 222h2v2h-2zM634 222h2v2h-2zM635 223h2v2h-2zM636 223h2v2h-2zM637 224h2v2h-2zM638 224h2v2h-2zM638 225h2v2h-2zM639 225h2v2h-2zM639 226h2v2h-2zM640 225h2v2h-2zM640 226h2v2h-2zM641 226h2v2h-2zM642 226h2v2h-2zM642 227h2v2h-2zM643 226h2v2h-2zM644 226h2v2h-2zM644 227h2v2h-2zM645 227h2v2h-2zM645 228h2v2h-2zM646 228h2v2h-2zM646 229h2v2h-2zM647 228h2v2h-2zM648 227h2v2h-2zM648 228h2v2h-2zM649 227h2v2h-2zM650 226h2v2h-2zM650 227h2v2h-2zM651 227h2v2h-2zM652 225h2v2h-2zM652 226h2v2h-2zM653 225h2v2h-2zM654 225h2v2h-2zM655 224h2v2h-2zM655 225h2v2h-2zM656 224h2v2h-2zM657 223h2v2h-2zM658 223h2v2h-2zM659 223h2v2h-2zM659 224h2v2h-2zM660 223h2v2h-2zM661 224h2v2h-2zM662 224h2v2h-2zM663 224h2v2h-2zM664 224h2v2h-2zM665 224h2v2h-2zM666 224h2v2h-2zM667 224h2v2h-2zM667 225h2v2h-2zM668 226h2v2h-2zM669 227h2v2h-2zM670 227h2v2h-2zM671 227h2v2h-2zM672 227h2v2h-2zM673 227h2v2h-2zM674 227h2v2h-2zM675 227h2v2h-2zM676 226h2v2h-2zM676 227h2v2h-2zM677 226h2v2h-2zM678 226h2v2h-2zM679 226h2v2h-2zM679 227h2v2h-2zM680 227h2v2h-2zM680 228h2v2h-2zM681 228h2v2h-2zM681 229h2v2h-2zM682 229h2v2h-2zM683 229h2v2h-2zM684 229h2v2h-2zM685 230h2v2h-2zM686 230h2v2h-2zM686 231h2v2h-2zM687 230h2v2h-2zM688 230h2v2h-2zM689 229h2v2h-2zM689 230h2v2h-2zM690 230h2v2h-2zM691 230h2v2h-2zM692 231h2v2h-2zM693 231h2v2h-2zM694 231h2v2h-2zM694 232h2v2h-2zM695 231h2v2h-2zM695 232h2v2h-2zM696 231h2v2h-2zM697 230h2v2h-2zM697 231h2v2h-2zM698 231h2v2h-2zM699 230h2v2h-2zM699 231h2v2h-2zM700 230h2v2h-2zM701 231h2v2h-2zM702 231h2v2h-2zM702 232h2v2h-2zM703 231h2v2h-2zM703 232h2v2h-2zM704 232h2v2h-2zM705 231h2v2h-2zM705 232h2v2h-2zM706 232h2v2h-2zM707 232h2v2h-2zM708 232h2v2h-2zM709 232h2v2h-2zM710 233h2v2h-2zM711 233h2v2h-2zM711 234h2v2h-2zM712 234h2v2h-2zM714 232h2v2h-2zM715 232h2v2h-2zM715 233h2v2h-2zM716 233h2v2h-2zM717 234h2v2h-2zM717 235h2v2h-2zM718 235h2v2h-2zM718 236h2v2h-2zM719 236h2v2h-2zM719 237h2v2h-2zM720 236h2v2h-2zM720 237h2v2h-2zM721 237h2v2h-2zM722 237h2v2h-2zM722 238h2v2h-2zM723 237h2v2h-2zM723 238h2v2h-2zM724 237h2v2h-2zM724 238h2v2h-2zM725 238h2v2h-2zM726 237h2v2h-2zM727 234h2v2h-2zM727 237h2v2h-2zM728 228h2v2h-2zM728 231h2v2h-2zM729 232h2v2h-2zM730 233h2v2h-2zM730 234h2v2h-2zM731 234h2v2h-2zM732 234h2v2h-2zM733 235h2v2h-2zM733 236h2v2h-2zM734 234h2v2h-2zM735 231h2v2h-2zM735 232h2v2h-2zM736 229h2v2h-2zM737 228h2v2h-2zM738 228h2v2h-2zM738 229h2v2h-2zM738 230h2v2h-2zM739 231h2v2h-2zM739 232h2v2h-2zM740 232h2v2h-2zM741 233h2v2h-2zM741 234h2v2h-2zM742 232h2v2h-2zM743 225h2v2h-2zM743 230h2v2h-2zM744 224h2v2h-2zM744 225h2v2h-2zM745 225h2v2h-2zM746 225h2v2h-2zM747 226h2v2h-2zM748 225h2v2h-2zM748 226h2v2h-2zM749 226h2v2h-2zM749 227h2v2h-2zM750 227h2v2h-2zM750 228h2v2h-2zM751 225h2v2h-2zM751 227h2v2h-2zM752 224h2v2h-2zM752 225h2v2h-2zM753 225h2v2h-2zM753 226h2v2h-2zM754 226h2v2h-2zM754 227h2v2h-2zM755 227h2v2h-2zM756 228h2v2h-2zM757 228h2v2h-2zM758 228h2v2h-2zM758 229h2v2h-2zM759 228h2v2h-2zM760 224h2v2h-2zM760 226h2v2h-2zM761 223h2v2h-2zM762 221h2v2h-2zM762 222h2v2h-2zM763 221h2v2h-2zM764 220h2v2h-2zM764 221h2v2h-2zM765 221h2v2h-2zM766 221h2v2h-2zM767 216h2v2h-2zM768 219h2v2h-2zM769 223h2v2h-2zM770 222h2v2h-2zM770 223h2v2h-2zM771 222h2v2h-2zM772 222h2v2h-2zM773 219h2v2h-2zM773 222h2v2h-2zM774 222h2v2h-2zM774 223h2v2h-2zM775 222h2v2h-2zM776 221h2v2h-2zM776 222h2v2h-2zM777 222h2v2h-2zM777 223h2v2h-2zM778 223h2v2h-2zM779 224h2v2h-2zM780 223h2v2h-2zM780 224h2v2h-2zM781 222h2v2h-2zM781 223h2v2h-2zM782 221h2v2h-2zM782 222h2v2h-2zM783 219h2v2h-2zM784 219h2v2h-2zM784 220h2v2h-2zM785 216h2v2h-2zM785 220h2v2h-2zM786 212h2v2h-2zM786 213h2v2h-2zM786 215h2v2h-2zM787 214h2v2h-2zM788 215h2v2h-2zM788 216h2v2h-2zM788 217h2v2h-2zM789 217h2v2h-2zM789 218h2v2h-2zM790 217h2v2h-2zM790 218h2v2h-2zM791 217h2v2h-2zM791 218h2v2h-2zM792 218h2v2h-2zM792 219h2v2h-2zM793 220h2v2h-2zM794 219h2v2h-2zM795 219h2v2h-2zM796 218h2v2h-2zM796 219h2v2h-2zM797 219h2v2h-2zM797 220h2v2h-2zM798 220h2v2h-2zM799 220h2v2h-2zM799 221h2v2h-2zM799 224h2v2h-2zM800 226h2v2h-2zM801 225h2v2h-2zM802 225h2v2h-2zM803 193h2v2h-2zM803 224h2v2h-2zM803 225h2v2h-2zM804 223h2v2h-2zM804 225h2v2h-2zM805 224h2v2h-2zM805 225h2v2h-2zM806 225h2v2h-2zM807 226h2v2h-2zM808 226h2v2h-2zM809 226h2v2h-2zM809 227h2v2h-2zM810 227h2v2h-2zM811 226h2v2h-2zM811 227h2v2h-2zM812 226h2v2h-2zM813 226h2v2h-2zM813 227h2v2h-2zM814 226h2v2h-2zM815 225h2v2h-2zM815 226h2v2h-2zM816 225h2v2h-2zM816 226h2v2h-2zM817 226h2v2h-2zM818 226h2v2h-2zM818 227h2v2h-2zM819 227h2v2h-2zM820 226h2v2h-2zM820 227h2v2h-2zM821 227h2v2h-2zM822 227h2v2h-2zM823 228h2v2h-2zM824 229h2v2h-2zM825 230h2v2h-2zM825 231h2v2h-2zM826 231h2v2h-2zM826 232h2v2h-2zM827 231h2v2h-2zM827 233h2v2h-2zM828 233h2v2h-2zM829 229h2v2h-2zM829 233h2v2h-2zM829 234h2v2h-2zM830 234h2v2h-2zM830 235h2v2h-2zM831 234h2v2h-2zM832 233h2v2h-2zM832 235h2v2h-2zM833 234h2v2h-2zM834 235h2v2h-2zM834 236h2v2h-2zM835 236h2v2h-2zM836 237h2v2h-2zM837 238h2v2h-2zM838 238h2v2h-2zM839 238h2v2h-2zM840 238h2v2h-2zM841 238h2v2h-2zM842 238h2v2h-2zM842 239h2v2h-2zM843 239h2v2h-2zM844 238h2v2h-2zM844 239h2v2h-2zM845 238h2v2h-2zM845 239h2v2h-2zM846 238h2v2h-2zM847 237h2v2h-2zM847 238h2v2h-2zM848 239h2v2h-2zM849 239h2v2h-2zM849 240h2v2h-2zM850 239h2v2h-2zM851 239h2v2h-2zM851 240h2v2h-2zM852 240h2v2h-2zM853 239h2v2h-2zM853 240h2v2h-2zM854 239h2v2h-2zM854 240h2v2h-2zM855 239h2v2h-2zM856 239h2v2h-2zM857 239h2v2h-2zM858 239h2v2h-2zM859 239h2v2h-2zM860 239h2v2h-2zM861 240h2v2h-2zM862 240h2v2h-2zM863 240h2v2h-2zM864 240h2v2h-2zM865 241h2v2h-2zM866 242h2v2h-2zM867 242h2v2h-2zM868 242h2v2h-2zM869 242h2v2h-2zM869 243h2v2h-2zM870 242h2v2h-2zM870 243h2v2h-2zM871 244h2v2h-2zM872 243h2v2h-2zM872 244h2v2h-2zM873 243h2v2h-2zM873 244h2v2h-2zM874 244h2v2h-2zM875 243h2v2h-2zM875 244h2v2h-2zM876 244h2v2h-2zM876 245h2v2h-2zM877 245h2v2h-2zM877 247h2v2h-2zM878 247h2v2h-2zM878 248h2v2h-2zM879 245h2v2h-2zM879 246h2v2h-2zM880 244h2v2h-2zM880 245h2v2h-2zM881 244h2v2h-2zM882 242h2v2h-2zM882 243h2v2h-2zM883 241h2v2h-2zM883 242h2v2h-2zM884 241h2v2h-2zM884 242h2v2h-2zM885 241h2v2h-2zM886 240h2v2h-2zM887 240h2v2h-2zM887 241h2v2h-2zM887 242h2v2h-2zM888 243h2v2h-2zM889 244h2v2h-2zM890 244h2v2h-2zM891 243h2v2h-2zM891 244h2v2h-2zM892 244h2v2h-2zM892 245h2v2h-2zM893 244h2v2h-2zM893 245h2v2h-2zM894 246h2v2h-2zM895 245h2v2h-2zM895 246h2v2h-2zM896 246h2v2h-2zM897 246h2v2h-2zM898 246h2v2h-2zM899 245h2v2h-2z"/>
<rect x="434.0" y="187.5" width="3" height="126.0" fill="#ff0000"/>
<rect x="850.0" y="187.5" width="3" height="126.0" fill="#ff0000"/>
<text x="441" y="202.0" fill="#ff0000" letter-spacing="0.18">Interruption</text>
<path d="M125.5 297.5h6M900.5 297.5h-6M125.5 282.5h6M900.5 282.5h-6M125.5 266.5h6M900.5 266.5h-6M125.5 250.5h6M900.5 250.5h-6M125.5 234.5h6M900.5 234.5h-6M125.5 218.5h6M900.5 218.5h-6M125.5 203.5h6M900.5 203.5h-6M196.5 187.5v6M196.5 313.5v-6M351.5 187.5v6M351.5 313.5v-6M506.5 187.5v6M506.5 313.5v-6M661.5 187.5v6M661.5 313.5v-6M816.5 187.5v6M816.5 313.5v-6" stroke="#000" stroke-width="0.7" fill="none"/>
<rect x="125.5" y="187.5" width="775.0" height="126.0" fill="none" stroke="#000" stroke-width="1.4"/>
<text x="119.6" y="301.2" text-anchor="end">-2</text>
<text x="120.7" y="269.5" text-anchor="end">0</text>
<text x="120.7" y="237.9" text-anchor="end">2</text>
<text x="120.7" y="206.2" text-anchor="end">4</text>
<text transform="translate(97.5,249.2) rotate(-90)" text-anchor="middle" letter-spacing="0.42">Log(p2 Rate)</text>
<rect x="324" y="445.0" width="114" height="5.5" fill="#800080"/>
<rect x="742" y="445.0" width="113" height="5.5" fill="#800080"/>
<path clip-path="url(#c2)" fill="#000" shape-rendering="crispEdges" d="M125 434h2v2h-2zM126 434h2v2h-2zM126 438h2v2h-2zM127 435h2v2h-2zM128 434h2v2h-2zM128 435h2v2h-2zM129 433h2v2h-2zM129 434h2v2h-2zM130 433h2v2h-2zM130 436h2v2h-2zM131 434h2v2h-2zM131 437h2v2h-2zM132 436h2v2h-2zM133 434h2v2h-2zM133 436h2v2h-2zM134 432h2v2h-2zM134 433h2v2h-2zM135 433h2v2h-2zM135 435h2v2h-2zM136 434h2v2h-2zM136 437h2v2h-2zM137 436h2v2h-2zM137 437h2v2h-2zM138 435h2v2h-2zM138 437h2v2h-2zM139 432h2v2h-2zM139 434h2v2h-2zM140 434h2v2h-2zM140 436h2v2h-2zM141 436h2v2h-2zM141 437h2v2h-2zM142 435h2v2h-2zM142 436h2v2h-2zM143 436h2v2h-2zM143 437h2v2h-2zM144 435h2v2h-2zM144 436h2v2h-2zM145 433h2v2h-2zM145 434h2v2h-2zM146 434h2v2h-2zM146 436h2v2h-2zM147 432h2v2h-2zM147 435h2v2h-2zM148 435h2v2h-2zM148 436h2v2h-2zM149 436h2v2h-2zM149 438h2v2h-2zM150 434h2v2h-2zM150 435h2v2h-2zM150 440h2v2h-2zM151 434h2v2h-2zM151 435h2v2h-2zM152 434h2v2h-2zM152 437h2v2h-2zM153 433h2v2h-2zM153 434h2v2h-2zM154 435h2v2h-2zM154 436h2v2h-2zM155 434h2v2h-2zM156 431h2v2h-2zM157 424h2v2h-2zM157 428h2v2h-2zM158 420h2v2h-2zM159 413h2v2h-2zM159 416h2v2h-2zM160 414h2v2h-2zM161 415h2v2h-2zM162 415h2v2h-2zM162 416h2v2h-2zM163 412h2v2h-2zM163 414h2v2h-2zM164 412h2v2h-2zM165 410h2v2h-2zM166 409h2v2h-2zM166 410h2v2h-2zM167 406h2v2h-2zM167 407h2v2h-2zM168 406h2v2h-2zM168 407h2v2h-2zM169 406h2v2h-2zM169 407h2v2h-2zM170 406h2v2h-2zM171 408h2v2h-2zM172 408h2v2h-2zM173 408h2v2h-2zM173 409h2v2h-2zM174 411h2v2h-2zM175 410h2v2h-2zM175 411h2v2h-2zM175 413h2v2h-2zM176 412h2v2h-2zM176 413h2v2h-2zM177 412h2v2h-2zM177 414h2v2h-2zM178 413h2v2h-2zM178 414h2v2h-2zM179 412h2v2h-2zM179 413h2v2h-2zM180 412h2v2h-2zM181 410h2v2h-2zM181 412h2v2h-2zM182 411h2v2h-2zM182 412h2v2h-2zM183 412h2v2h-2zM183 413h2v2h-2zM184 412h2v2h-2zM185 412h2v2h-2zM185 413h2v2h-2zM186 411h2v2h-2zM186 412h2v2h-2zM187 412h2v2h-2zM188 412h2v2h-2zM189 411h2v2h-2zM190 413h2v2h-2zM190 414h2v2h-2zM191 411h2v2h-2zM191 412h2v2h-2zM192 409h2v2h-2zM192 410h2v2h-2zM193 410h2v2h-2zM193 411h2v2h-2zM194 411h2v2h-2zM194 412h2v2h-2zM195 411h2v2h-2zM196 411h2v2h-2zM197 411h2v2h-2zM197 412h2v2h-2zM198 411h2v2h-2zM199 411h2v2h-2zM199 412h2v2h-2zM200 411h2v2h-2zM200 413h2v2h-2zM201 410h2v2h-2zM201 413h2v2h-2zM202 410h2v2h-2zM202 411h2v2h-2zM203 410h2v2h-2zM204 410h2v2h-2zM205 408h2v2h-2zM205 409h2v2h-2zM206 409h2v2h-2zM207 408h2v2h-2zM207 409h2v2h-2zM208 407h2v2h-2zM208 409h2v2h-2zM209 408h2v2h-2zM210 406h2v2h-2zM210 408h2v2h-2zM211 407h2v2h-2zM212 407h2v2h-2zM212 408h2v2h-2zM213 407h2v2h-2zM214 407h2v2h-2zM215 407h2v2h-2zM216 406h2v2h-2zM216 407h2v2h-2zM217 407h2v2h-2zM217 408h2v2h-2zM218 410h2v2h-2zM219 412h2v2h-2zM219 413h2v2h-2zM220 411h2v2h-2zM221 412h2v2h-2zM222 412h2v2h-2zM223 411h2v2h-2zM224 411h2v2h-2zM224 412h2v2h-2zM225 411h2v2h-2zM225 412h2v2h-2zM226 411h2v2h-2zM227 412h2v2h-2zM228 412h2v2h-2zM229 412h2v2h-2zM230 412h2v2h-2zM230 413h2v2h-2zM231 410h2v2h-2zM231 411h2v2h-2zM232 410h2v2h-2zM232 411h2v2h-2zM233 411h2v2h-2zM234 410h2v2h-2zM234 411h2v2h-2zM235 412h2v2h-2zM236 413h2v2h-2zM237 413h2v2h-2zM237 414h2v2h-2zM238 416h2v2h-2zM239 416h2v2h-2zM239 417h2v2h-2zM240 417h2v2h-2zM241 417h2v2h-2zM241 418h2v2h-2zM242 416h2v2h-2zM242 417h2v2h-2zM243 416h2v2h-2zM243 417h2v2h-2zM244 416h2v2h-2zM245 415h2v2h-2zM246 416h2v2h-2zM246 418h2v2h-2zM247 417h2v2h-2zM247 419h2v2h-2zM248 418h2v2h-2zM248 419h2v2h-2zM249 419h2v2h-2zM249 420h2v2h-2zM250 419h2v2h-2zM251 420h2v2h-2zM251 421h2v2h-2zM252 419h2v2h-2zM252 421h2v2h-2zM253 421h2v2h-2zM254 420h2v2h-2zM255 421h2v2h-2zM255 422h2v2h-2zM256 421h2v2h-2zM257 421h2v2h-2zM257 422h2v2h-2zM258 423h2v2h-2zM259 423h2v2h-2zM259 424h2v2h-2zM260 423h2v2h-2zM261 422h2v2h-2zM261 423h2v2h-2zM262 424h2v2h-2zM263 423h2v2h-2zM264 424h2v2h-2zM264 425h2v2h-2zM265 423h2v2h-2zM265 424h2v2h-2zM266 423h2v2h-2zM266 424h2v2h-2zM267 422h2v2h-2zM267 423h2v2h-2zM268 422h2v2h-2zM268 424h2v2h-2zM269 423h2v2h-2zM269 425h2v2h-2zM270 424h2v2h-2zM271 424h2v2h-2zM272 423h2v2h-2zM272 425h2v2h-2zM273 423h2v2h-2zM274 424h2v2h-2zM274 425h2v2h-2zM275 424h2v2h-2zM275 425h2v2h-2zM276 423h2v2h-2zM276 425h2v2h-2zM277 424h2v2h-2zM277 425h2v2h-2zM278 425h2v2h-2zM279 425h2v2h-2zM279 426h2v2h-2zM280 426h2v2h-2zM280 427h2v2h-2zM281 426h2v2h-2zM281 427h2v2h-2zM282 427h2v2h-2zM282 428h2v2h-2zM283 427h2v2h-2zM283 429h2v2h-2zM284 428h2v2h-2zM284 429h2v2h-2zM285 428h2v2h-2zM286 428h2v2h-2zM287 429h2v2h-2zM287 430h2v2h-2zM288 429h2v2h-2zM288 430h2v2h-2zM289 428h2v2h-2zM289 429h2v2h-2zM290 427h2v2h-2zM290 429h2v2h-2zM291 427h2v2h-2zM291 429h2v2h-2zM292 428h2v2h-2zM292 429h2v2h-2zM293 428h2v2h-2zM294 428h2v2h-2zM295 428h2v2h-2zM296 428h2v2h-2zM296 429h2v2h-2zM297 428h2v2h-2zM297 429h2v2h-2zM298 428h2v2h-2zM298 429h2v2h-2zM299 428h2v2h-2zM299 429h2v2h-2zM300 430h2v2h-2zM301 429h2v2h-2zM302 429h2v2h-2zM302 430h2v2h-2zM303 430h2v2h-2zM304 428h2v2h-2zM304 430h2v2h-2zM305 428h2v2h-2zM306 429h2v2h-2zM306 430h2v2h-2zM307 429h2v2h-2zM307 431h2v2h-2zM308 429h2v2h-2zM308 430h2v2h-2zM309 429h2v2h-2zM309 430h2v2h-2zM310 429h2v2h-2zM311 429h2v2h-2zM312 428h2v2h-2zM312 429h2v2h-2zM313 429h2v2h-2zM314 429h2v2h-2zM314 430h2v2h-2zM314 432h2v2h-2zM315 429h2v2h-2zM316 430h2v2h-2zM317 427h2v2h-2zM317 429h2v2h-2zM318 429h2v2h-2zM318 430h2v2h-2zM318 433h2v2h-2zM319 430h2v2h-2zM319 431h2v2h-2zM320 432h2v2h-2zM321 431h2v2h-2zM321 432h2v2h-2zM322 430h2v2h-2zM323 431h2v2h-2zM323 434h2v2h-2zM324 431h2v2h-2zM325 429h2v2h-2zM325 434h2v2h-2zM326 431h2v2h-2zM326 432h2v2h-2zM327 431h2v2h-2zM327 432h2v2h-2zM328 432h2v2h-2zM329 430h2v2h-2zM329 432h2v2h-2zM330 430h2v2h-2zM330 432h2v2h-2zM331 431h2v2h-2zM331 432h2v2h-2zM332 431h2v2h-2zM332 433h2v2h-2zM333 432h2v2h-2zM334 434h2v2h-2zM335 432h2v2h-2zM335 433h2v2h-2zM336 432h2v2h-2zM336 433h2v2h-2zM337 430h2v2h-2zM337 431h2v2h-2zM338 431h2v2h-2zM338 435h2v2h-2zM339 433h2v2h-2zM340 432h2v2h-2zM341 433h2v2h-2zM341 434h2v2h-2zM342 434h2v2h-2zM342 435h2v2h-2zM343 433h2v2h-2zM343 435h2v2h-2zM344 433h2v2h-2zM344 434h2v2h-2zM345 432h2v2h-2zM345 433h2v2h-2zM345 436h2v2h-2zM346 433h2v2h-2zM347 432h2v2h-2zM347 433h2v2h-2zM348 433h2v2h-2zM348 434h2v2h-2zM349 434h2v2h-2zM350 433h2v2h-2zM350 434h2v2h-2zM351 432h2v2h-2zM352 431h2v2h-2zM352 433h2v2h-2zM353 431h2v2h-2zM353 432h2v2h-2zM354 430h2v2h-2zM354 433h2v2h-2zM355 432h2v2h-2zM355 433h2v2h-2zM356 431h2v2h-2zM357 432h2v2h-2zM358 432h2v2h-2zM359 431h2v2h-2zM359 432h2v2h-2zM360 433h2v2h-2zM361 433h2v2h-2zM362 431h2v2h-2zM362 433h2v2h-2zM363 431h2v2h-2zM363 432h2v2h-2zM364 431h2v2h-2zM364 432h2v2h-2zM365 431h2v2h-2zM365 432h2v2h-2zM366 433h2v2h-2zM367 429h2v2h-2zM367 432h2v2h-2zM368 432h2v2h-2zM368 434h2v2h-2zM369 430h2v2h-2zM369 432h2v2h-2zM370 431h2v2h-2zM371 432h2v2h-2zM371 434h2v2h-2zM372 433h2v2h-2zM373 433h2v2h-2zM374 432h2v2h-2zM374 433h2v2h-2zM375 432h2v2h-2zM375 433h2v2h-2zM376 432h2v2h-2zM377 431h2v2h-2zM377 432h2v2h-2zM378 432h2v2h-2zM379 432h2v2h-2zM379 433h2v2h-2zM380 433h2v2h-2zM380 434h2v2h-2zM381 433h2v2h-2zM382 432h2v2h-2zM383 432h2v2h-2zM383 433h2v2h-2zM384 433h2v2h-2zM385 431h2v2h-2zM385 432h2v2h-2zM386 432h2v2h-2zM386 433h2v2h-2zM387 431h2v2h-2zM388 432h2v2h-2zM388 436h2v2h-2zM389 433h2v2h-2zM390 431h2v2h-2zM391 431h2v2h-2zM391 432h2v2h-2zM392 431h2v2h-2zM392 432h2v2h-2zM393 430h2v2h-2zM393 434h2v2h-2zM393 437h2v2h-2zM394 434h2v2h-2zM395 431h2v2h-2zM395 432h2v2h-2zM396 433h2v2h-2zM397 431h2v2h-2zM397 433h2v2h-2zM398 432h2v2h-2zM398 434h2v2h-2zM399 434h2v2h-2zM399 435h2v2h-2zM400 432h2v2h-2zM401 435h2v2h-2zM402 433h2v2h-2zM402 434h2v2h-2zM403 434h2v2h-2zM403 435h2v2h-2zM404 433h2v2h-2zM404 434h2v2h-2zM405 432h2v2h-2zM405 435h2v2h-2zM406 435h2v2h-2zM407 433h2v2h-2zM407 435h2v2h-2zM408 432h2v2h-2zM408 433h2v2h-2zM409 433h2v2h-2zM409 435h2v2h-2zM410 432h2v2h-2zM410 435h2v2h-2zM411 433h2v2h-2zM411 435h2v2h-2zM412 434h2v2h-2zM413 434h2v2h-2zM414 433h2v2h-2zM414 435h2v2h-2zM415 434h2v2h-2zM415 436h2v2h-2zM416 434h2v2h-2zM417 433h2v2h-2zM417 436h2v2h-2zM418 431h2v2h-2zM418 433h2v2h-2zM419 432h2v2h-2zM419 433h2v2h-2zM420 432h2v2h-2zM420 433h2v2h-2zM421 432h2v2h-2zM421 433h2v2h-2zM422 431h2v2h-2zM423 430h2v2h-2zM424 426h2v2h-2zM424 428h2v2h-2zM425 424h2v2h-2zM426 420h2v2h-2zM426 422h2v2h-2zM427 418h2v2h-2zM428 413h2v2h-2zM428 416h2v2h-2zM429 411h2v2h-2zM430 406h2v2h-2zM430 408h2v2h-2zM431 404h2v2h-2zM432 399h2v2h-2zM432 402h2v2h-2zM433 397h2v2h-2zM434 394h2v2h-2zM434 395h2v2h-2zM435 392h2v2h-2zM436 390h2v2h-2zM436 391h2v2h-2zM437 389h2v2h-2zM438 388h2v2h-2zM438 389h2v2h-2zM439 387h2v2h-2zM439 388h2v2h-2zM440 387h2v2h-2zM441 386h2v2h-2zM442 385h2v2h-2zM442 386h2v2h-2zM443 385h2v2h-2zM444 384h2v2h-2zM444 385h2v2h-2zM445 384h2v2h-2zM446 383h2v2h-2zM447 382h2v2h-2zM448 382h2v2h-2zM449 380h2v2h-2zM449 382h2v2h-2zM450 380h2v2h-2zM451 380h2v2h-2zM452 380h2v2h-2zM453 379h2v2h-2zM453 380h2v2h-2zM454 379h2v2h-2zM454 380h2v2h-2zM455 379h2v2h-2zM456 379h2v2h-2zM457 378h2v2h-2zM457 379h2v2h-2zM458 378h2v2h-2zM459 378h2v2h-2zM460 377h2v2h-2zM460 378h2v2h-2zM461 378h2v2h-2zM462 377h2v2h-2zM462 378h2v2h-2zM463 379h2v2h-2zM464 378h2v2h-2zM465 378h2v2h-2zM466 378h2v2h-2zM466 379h2v2h-2zM467 378h2v2h-2zM468 378h2v2h-2zM469 378h2v2h-2zM470 377h2v2h-2zM470 378h2v2h-2zM471 378h2v2h-2zM472 378h2v2h-2zM473 377h2v2h-2zM473 378h2v2h-2zM474 377h2v2h-2zM475 377h2v2h-2zM475 378h2v2h-2zM476 377h2v2h-2zM477 377h2v2h-2zM477 378h2v2h-2zM478 378h2v2h-2zM479 377h2v2h-2zM479 378h2v2h-2zM480 377h2v2h-2zM480 378h2v2h-2zM481 377h2v2h-2zM482 377h2v2h-2zM483 377h2v2h-2zM484 377h2v2h-2zM485 377h2v2h-2zM486 377h2v2h-2zM487 377h2v2h-2zM488 377h2v2h-2zM489 377h2v2h-2zM490 377h2v2h-2zM491 377h2v2h-2zM492 376h2v2h-2zM493 376h2v2h-2zM494 376h2v2h-2zM495 376h2v2h-2zM496 376h2v2h-2zM497 375h2v2h-2zM498 375h2v2h-2zM499 375h2v2h-2zM500 374h2v2h-2zM500 375h2v2h-2zM501 374h2v2h-2zM502 374h2v2h-2zM503 374h2v2h-2zM504 373h2v2h-2zM505 373h2v2h-2zM506 373h2v2h-2zM507 373h2v2h-2zM507 374h2v2h-2zM508 373h2v2h-2zM509 372h2v2h-2zM510 372h2v2h-2zM511 372h2v2h-2zM512 371h2v2h-2zM513 372h2v2h-2zM514 372h2v2h-2zM515 372h2v2h-2zM516 372h2v2h-2zM517 373h2v2h-2zM518 372h2v2h-2zM518 373h2v2h-2zM519 372h2v2h-2zM520 372h2v2h-2zM520 373h2v2h-2zM521 372h2v2h-2zM521 373h2v2h-2zM522 372h2v2h-2zM523 372h2v2h-2zM523 373h2v2h-2zM524 372h2v2h-2zM524 373h2v2h-2zM525 373h2v2h-2zM526 372h2v2h-2zM527 372h2v2h-2zM528 373h2v2h-2zM529 373h2v2h-2zM530 372h2v2h-2zM530 373h2v2h-2zM531 373h2v2h-2zM532 373h2v2h-2zM533 373h2v2h-2zM534 374h2v2h-2zM535 373h2v2h-2zM536 374h2v2h-2zM537 373h2v2h-2zM537 374h2v2h-2zM538 373h2v2h-2zM538 374h2v2h-2zM539 373h2v2h-2zM540 373h2v2h-2zM541 373h2v2h-2zM542 373h2v2h-2zM543 372h2v2h-2zM543 373h2v2h-2zM544 372h2v2h-2zM544 373h2v2h-2zM545 372h2v2h-2zM546 372h2v2h-2zM547 373h2v2h-2zM548 373h2v2h-2zM548 374h2v2h-2zM549 374h2v2h-2zM550 374h2v2h-2zM550 375h2v2h-2zM551 375h2v2h-2zM552 375h2v2h-2zM553 375h2v2h-2zM553 376h2v2h-2zM554 376h2v2h-2zM555 375h2v2h-2zM556 376h2v2h-2zM557 375h2v2h-2zM558 374h2v2h-2zM558 375h2v2h-2zM559 374h2v2h-2zM560 375h2v2h-2zM561 376h2v2h-2zM562 377h2v2h-2zM563 377h2v2h-2zM563 378h2v2h-2zM564 377h2v2h-2zM564 378h2v2h-2zM565 378h2v2h-2zM566 379h2v2h-2zM567 379h2v2h-2zM568 379h2v2h-2zM569 379h2v2h-2zM570 379h2v2h-2zM571 378h2v2h-2zM571 379h2v2h-2zM572 379h2v2h-2zM573 379h2v2h-2zM574 380h2v2h-2zM575 381h2v2h-2zM576 381h2v2h-2zM577 382h2v2h-2zM578 383h2v2h-2zM578 384h2v2h-2zM579 384h2v2h-2zM580 385h2v2h-2zM580 386h2v2h-2zM581 387h2v2h-2zM582 388h2v2h-2zM583 389h2v2h-2zM584 389h2v2h-2zM584 390h2v2h-2zM585 390h2v2h-2zM586 391h2v2h-2zM587 392h2v2h-2zM588 392h2v2h-2zM588 393h2v2h-2zM589 393h2v2h-2zM589 394h2v2h-2zM590 395h2v2h-2zM590 396h2v2h-2zM591 397h2v2h-2zM592 398h2v2h-2zM593 398h2v2h-2zM594 398h2v2h-2zM594 399h2v2h-2zM595 399h2v2h-2zM595 400h2v2h-2zM596 401h2v2h-2zM597 402h2v2h-2zM598 401h2v2h-2zM598 402h2v2h-2zM599 402h2v2h-2zM599 403h2v2h-2zM600 402h2v2h-2zM601 401h2v2h-2zM601 402h2v2h-2zM602 399h2v2h-2zM603 400h2v2h-2zM604 399h2v2h-2zM604 400h2v2h-2zM605 398h2v2h-2zM605 399h2v2h-2zM606 399h2v2h-2zM607 400h2v2h-2zM608 400h2v2h-2zM608 401h2v2h-2zM609 401h2v2h-2zM610 401h2v2h-2zM611 401h2v2h-2zM611 402h2v2h-2zM612 401h2v2h-2zM612 402h2v2h-2zM613 401h2v2h-2zM614 402h2v2h-2zM615 402h2v2h-2zM616 402h2v2h-2zM617 402h2v2h-2zM618 402h2v2h-2zM619 402h2v2h-2zM619 403h2v2h-2zM620 402h2v2h-2zM621 402h2v2h-2zM622 402h2v2h-2zM623 402h2v2h-2zM624 401h2v2h-2zM624 402h2v2h-2zM625 401h2v2h-2zM626 401h2v2h-2zM627 401h2v2h-2zM628 401h2v2h-2zM629 399h2v2h-2zM629 400h2v2h-2zM630 398h2v2h-2zM630 399h2v2h-2zM631 397h2v2h-2zM632 397h2v2h-2zM633 396h2v2h-2zM634 397h2v2h-2zM635 397h2v2h-2zM636 397h2v2h-2zM636 398h2v2h-2zM637 398h2v2h-2zM638 399h2v2h-2zM639 399h2v2h-2zM639 400h2v2h-2zM640 399h2v2h-2zM641 399h2v2h-2zM641 400h2v2h-2zM642 398h2v2h-2zM643 396h2v2h-2zM643 397h2v2h-2zM644 395h2v2h-2zM645 393h2v2h-2zM645 394h2v2h-2zM646 391h2v2h-2zM646 392h2v2h-2zM647 390h2v2h-2zM647 391h2v2h-2zM648 390h2v2h-2zM649 389h2v2h-2zM650 388h2v2h-2zM651 387h2v2h-2zM651 388h2v2h-2zM652 386h2v2h-2zM652 387h2v2h-2zM653 385h2v2h-2zM654 385h2v2h-2zM654 386h2v2h-2zM655 385h2v2h-2zM656 386h2v2h-2zM657 385h2v2h-2zM657 386h2v2h-2zM658 386h2v2h-2zM659 386h2v2h-2zM660 386h2v2h-2zM661 386h2v2h-2zM662 386h2v2h-2zM663 386h2v2h-2zM664 386h2v2h-2zM665 386h2v2h-2zM666 386h2v2h-2zM667 386h2v2h-2zM667 387h2v2h-2zM668 387h2v2h-2zM669 387h2v2h-2zM669 388h2v2h-2zM670 387h2v2h-2zM671 387h2v2h-2zM672 387h2v2h-2zM673 387h2v2h-2zM674 386h2v2h-2zM674 387h2v2h-2zM675 386h2v2h-2zM676 385h2v2h-2zM676 386h2v2h-2zM677 384h2v2h-2zM677 385h2v2h-2zM678 384h2v2h-2zM678 385h2v2h-2zM679 384h2v2h-2zM680 384h2v2h-2zM680 385h2v2h-2zM681 385h2v2h-2zM682 385h2v2h-2zM682 386h2v2h-2zM683 386h2v2h-2zM684 385h2v2h-2zM685 386h2v2h-2zM686 386h2v2h-2zM687 387h2v2h-2zM688 387h2v2h-2zM689 387h2v2h-2zM690 387h2v2h-2zM691 386h2v2h-2zM691 388h2v2h-2zM692 387h2v2h-2zM693 388h2v2h-2zM694 388h2v2h-2zM695 387h2v2h-2zM695 388h2v2h-2zM696 388h2v2h-2zM697 388h2v2h-2zM698 387h2v2h-2zM698 388h2v2h-2zM699 388h2v2h-2zM700 388h2v2h-2zM701 388h2v2h-2zM701 389h2v2h-2zM702 389h2v2h-2zM703 389h2v2h-2zM704 388h2v2h-2zM704 389h2v2h-2zM705 388h2v2h-2zM705 389h2v2h-2zM706 389h2v2h-2zM706 390h2v2h-2zM707 389h2v2h-2zM708 390h2v2h-2zM709 390h2v2h-2zM710 390h2v2h-2zM711 390h2v2h-2zM712 389h2v2h-2zM712 391h2v2h-2zM713 391h2v2h-2zM714 391h2v2h-2zM715 391h2v2h-2zM716 392h2v2h-2zM717 391h2v2h-2zM717 392h2v2h-2zM718 391h2v2h-2zM719 391h2v2h-2zM720 391h2v2h-2zM721 391h2v2h-2zM722 392h2v2h-2zM723 392h2v2h-2zM724 392h2v2h-2zM725 392h2v2h-2zM726 393h2v2h-2zM727 392h2v2h-2zM727 393h2v2h-2zM728 392h2v2h-2zM728 393h2v2h-2zM729 393h2v2h-2zM730 393h2v2h-2zM731 393h2v2h-2zM732 393h2v2h-2zM733 393h2v2h-2zM734 393h2v2h-2zM735 393h2v2h-2zM736 393h2v2h-2zM737 394h2v2h-2zM738 393h2v2h-2zM739 393h2v2h-2zM740 393h2v2h-2zM741 393h2v2h-2zM742 393h2v2h-2zM743 393h2v2h-2zM744 393h2v2h-2zM745 393h2v2h-2zM746 392h2v2h-2zM746 393h2v2h-2zM747 392h2v2h-2zM748 393h2v2h-2zM749 393h2v2h-2zM750 392h2v2h-2zM750 393h2v2h-2zM751 392h2v2h-2zM751 393h2v2h-2zM752 392h2v2h-2zM753 392h2v2h-2zM754 392h2v2h-2zM755 392h2v2h-2zM756 392h2v2h-2zM757 391h2v2h-2zM758 391h2v2h-2zM758 392h2v2h-2zM759 391h2v2h-2zM759 392h2v2h-2zM760 391h2v2h-2zM761 391h2v2h-2zM761 392h2v2h-2zM762 391h2v2h-2zM763 392h2v2h-2zM764 391h2v2h-2zM765 392h2v2h-2zM766 392h2v2h-2zM767 392h2v2h-2zM768 391h2v2h-2zM768 392h2v2h-2zM769 392h2v2h-2zM770 392h2v2h-2zM771 392h2v2h-2zM771 393h2v2h-2zM772 392h2v2h-2zM773 392h2v2h-2zM773 393h2v2h-2zM774 393h2v2h-2zM775 394h2v2h-2zM776 394h2v2h-2zM777 394h2v2h-2zM777 396h2v2h-2zM778 395h2v2h-2zM778 396h2v2h-2zM779 396h2v2h-2zM780 396h2v2h-2zM781 396h2v2h-2zM782 395h2v2h-2zM783 396h2v2h-2zM784 395h2v2h-2zM784 396h2v2h-2zM785 394h2v2h-2zM786 393h2v2h-2zM787 394h2v2h-2zM788 395h2v2h-2zM789 395h2v2h-2zM789 396h2v2h-2zM790 396h2v2h-2zM791 396h2v2h-2zM791 397h2v2h-2zM792 397h2v2h-2zM793 397h2v2h-2zM794 398h2v2h-2zM795 398h2v2h-2zM796 399h2v2h-2zM797 399h2v2h-2zM797 400h2v2h-2zM798 400h2v2h-2zM799 401h2v2h-2zM799 402h2v2h-2zM800 403h2v2h-2zM801 403h2v2h-2zM802 403h2v2h-2zM803 330h2v2h-2zM803 404h2v2h-2zM804 404h2v2h-2zM805 404h2v2h-2zM806 404h2v2h-2zM806 405h2v2h-2zM807 404h2v2h-2zM808 405h2v2h-2zM808 406h2v2h-2zM809 405h2v2h-2zM810 405h2v2h-2zM811 404h2v2h-2zM811 405h2v2h-2zM812 404h2v2h-2zM812 405h2v2h-2zM813 405h2v2h-2zM814 405h2v2h-2zM814 406h2v2h-2zM815 406h2v2h-2zM816 406h2v2h-2zM817 406h2v2h-2zM817 407h2v2h-2zM818 407h2v2h-2zM819 406h2v2h-2zM819 407h2v2h-2zM820 407h2v2h-2zM821 408h2v2h-2zM822 408h2v2h-2zM823 408h2v2h-2zM823 409h2v2h-2zM824 408h2v2h-2zM825 409h2v2h-2zM826 410h2v2h-2zM827 410h2v2h-2zM827 411h2v2h-2zM828 410h2v2h-2zM828 411h2v2h-2zM829 411h2v2h-2zM830 411h2v2h-2zM831 412h2v2h-2zM832 412h2v2h-2zM833 413h2v2h-2zM834 412h2v2h-2zM835 413h2v2h-2zM836 414h2v2h-2zM837 414h2v2h-2zM837 415h2v2h-2zM838 414h2v2h-2zM839 414h2v2h-2zM840 415h2v2h-2zM841 414h2v2h-2zM842 415h2v2h-2zM843 414h2v2h-2zM843 415h2v2h-2zM844 414h2v2h-2zM845 414h2v2h-2zM845 415h2v2h-2zM846 415h2v2h-2zM847 415h2v2h-2zM848 414h2v2h-2zM848 415h2v2h-2zM849 415h2v2h-2zM850 415h2v2h-2zM850 416h2v2h-2zM851 415h2v2h-2zM852 415h2v2h-2zM853 415h2v2h-2zM854 415h2v2h-2zM854 416h2v2h-2zM855 415h2v2h-2zM855 416h2v2h-2zM856 415h2v2h-2zM856 416h2v2h-2zM857 415h2v2h-2zM858 415h2v2h-2zM859 416h2v2h-2zM860 415h2v2h-2zM861 415h2v2h-2zM862 415h2v2h-2zM862 416h2v2h-2zM863 415h2v2h-2zM863 416h2v2h-2zM864 416h2v2h-2zM865 416h2v2h-2zM866 415h2v2h-2zM866 416h2v2h-2zM867 416h2v2h-2zM868 416h2v2h-2zM869 416h2v2h-2zM870 416h2v2h-2zM870 417h2v2h-2zM871 417h2v2h-2zM872 417h2v2h-2zM873 417h2v2h-2zM874 417h2v2h-2zM874 418h2v2h-2zM875 418h2v2h-2zM876 418h2v2h-2zM876 419h2v2h-2zM877 418h2v2h-2zM878 418h2v2h-2zM878 419h2v2h-2zM879 418h2v2h-2zM880 418h2v2h-2zM881 418h2v2h-2zM882 417h2v2h-2zM882 418h2v2h-2zM883 418h2v2h-2zM884 417h2v2h-2zM885 418h2v2h-2zM886 417h2v2h-2zM886 418h2v2h-2zM887 418h2v2h-2zM887 419h2v2h-2zM888 419h2v2h-2zM889 419h2v2h-2zM890 419h2v2h-2zM890 420h2v2h-2zM891 419h2v2h-2zM892 420h2v2h-2zM893 420h2v2h-2zM894 420h2v2h-2zM895 420h2v2h-2zM895 421h2v2h-2zM896 421h2v2h-2zM897 421h2v2h-2zM898 421h2v2h-2z"/>
<rect x="434.0" y="323.5" width="3" height="127.0" fill="#ff0000"/>
<rect x="850.0" y="323.5" width="3" height="127.0" fill="#ff0000"/>
<text x="441" y="338.0" fill="#ff0000" letter-spacing="0.18">Interruption</text>
<path d="M125.5 434.5h6M900.5 434.5h-6M125.5 418.5h6M900.5 418.5h-6M125.5 403.5h6M900.5 403.5h-6M125.5 387.5h6M900.5 387.5h-6M125.5 371.5h6M900.5 371.5h-6M125.5 355.5h6M900.5 355.5h-6M125.5 339.5h6M900.5 339.5h-6M196.5 323.5v6M196.5 450.5v-6M351.5 323.5v6M351.5 450.5v-6M506.5 323.5v6M506.5 450.5v-6M661.5 323.5v6M661.5 450.5v-6M816.5 323.5v6M816.5 450.5v-6" stroke="#000" stroke-width="0.7" fill="none"/>
<rect x="125.5" y="323.5" width="775.0" height="127.0" fill="none" stroke="#000" stroke-width="1.4"/>
<text x="119.6" y="437.9" text-anchor="end">-2</text>
<text x="120.7" y="406.2" text-anchor="end">0</text>
<text x="120.7" y="374.6" text-anchor="end">2</text>
<text x="120.7" y="342.9" text-anchor="end">4</text>
<text transform="translate(97.5,385.7) rotate(-90)" text-anchor="middle" letter-spacing="0.42">Log(p5 Rate)</text>
<text x="196.5" y="464.3" text-anchor="middle">300</text>
<text x="351.5" y="464.3" text-anchor="middle">301</text>
<text x="506.5" y="464.3" text-anchor="middle">302</text>
<text x="661.5" y="464.3" text-anchor="middle">303</text>
<text x="816.5" y="464.3" text-anchor="middle">304</text>
 <text x="512.0" y="481" text-anchor="middle" letter-spacing="0.3">Day of Year</text>
</svg>
</body></html>
